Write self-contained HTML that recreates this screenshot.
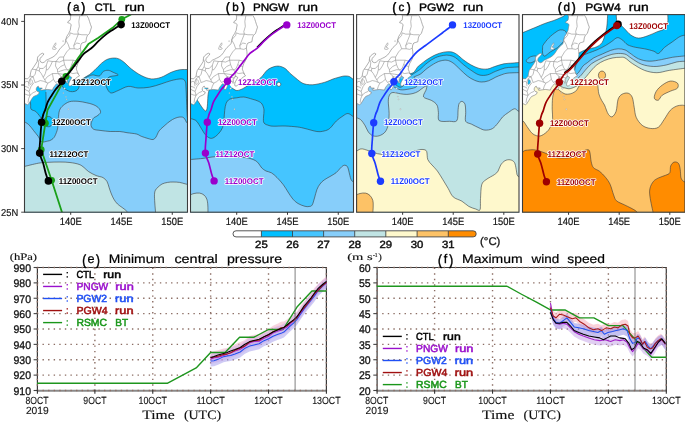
<!DOCTYPE html>
<html><head><meta charset="utf-8"><style>
html,body{margin:0;padding:0;background:#fff;width:685px;height:423px;overflow:hidden}
svg{display:block;will-change:transform}
</style></head><body>
<svg width="685" height="423" viewBox="0 0 685 423" text-rendering="geometricPrecision">
<rect width="685" height="423" fill="#fff"/>
<clipPath id="clipa"><rect x="24.5" y="14.6" width="163" height="197.6"/></clipPath>
<g clip-path="url(#clipa)">
<path d="M75,80C75.83,80.08 78.42,80.92 80,80.5C81.58,80.08 82.9,78.5 84.5,77.5C86.1,76.5 87.85,75.78 89.6,74.5C91.35,73.22 93,71.68 95,69.8C97,67.92 99.4,65 101.6,63.2C103.8,61.4 105.72,59.83 108.2,59C110.68,58.17 114.02,57.78 116.5,58.2C118.98,58.62 120.62,59.7 123.1,61.5C125.58,63.3 128.35,66.65 131.4,69C134.45,71.35 138.08,73.95 141.4,75.6C144.72,77.25 148,78.62 151.3,78.9C154.6,79.18 157.88,78.4 161.2,77.3C164.52,76.2 168.17,73.55 171.2,72.3C174.23,71.05 176.43,70.27 179.4,69.8C182.37,69.33 187.4,69.55 189,69.5L189,214L23,214L23,95L45,85L60,78L70,76Z" fill="#00bfff"/>
<path d="M75,80C75.83,80.08 78.42,80.92 80,80.5C81.58,80.08 82.9,78.5 84.5,77.5C86.1,76.5 87.85,75.78 89.6,74.5C91.35,73.22 93,71.68 95,69.8C97,67.92 99.4,65 101.6,63.2C103.8,61.4 105.72,59.83 108.2,59C110.68,58.17 114.02,57.78 116.5,58.2C118.98,58.62 120.62,59.7 123.1,61.5C125.58,63.3 128.35,66.65 131.4,69C134.45,71.35 138.08,73.95 141.4,75.6C144.72,77.25 148,78.62 151.3,78.9C154.6,79.18 157.88,78.4 161.2,77.3C164.52,76.2 168.17,73.55 171.2,72.3C174.23,71.05 176.43,70.27 179.4,69.8C182.37,69.33 187.4,69.55 189,69.5" fill="none" stroke="#3a3a3a" stroke-width="0.6"/>
<path d="M76,82C76.67,81.87 78.33,81.95 80,81.2C81.67,80.45 84,78.53 86,77.5C88,76.47 90.17,75.28 92,75C93.83,74.72 95.67,75.7 97,75.8C98.33,75.9 98.95,76.32 100,75.6C101.05,74.88 101.93,72.38 103.3,71.5C104.67,70.62 106.55,70.17 108.2,70.3C109.85,70.43 111.53,71.55 113.2,72.3C114.87,73.05 117.92,74.22 118.2,74.8C118.48,75.38 116.28,75.5 114.9,75.8C113.52,76.1 111.28,75.95 109.9,76.6C108.52,77.25 107.28,78.35 106.6,79.7C105.92,81.05 105.53,82.9 105.8,84.7C106.07,86.5 107.23,89.12 108.2,90.5C109.17,91.88 109.93,93 111.6,93C113.27,93 115.45,91.6 118.2,90.5C120.95,89.4 124.8,86.82 128.1,86.4C131.4,85.98 134.42,87.87 138,88C141.58,88.13 145.73,87.88 149.6,87.2C153.47,86.52 157.6,85 161.2,83.9C164.8,82.8 167.88,81.43 171.2,80.6C174.52,79.77 178.77,78.77 181.1,78.9C183.43,79.03 184.37,79.6 185.2,81.4C186.03,83.2 185.77,84.1 186.1,89.7C186.43,95.3 186.72,108.28 187.2,115C187.68,121.72 188.7,127.5 189,130L189,214L23,214L23,95L45,85L60,78L70,78Z" fill="#45c5ff"/>
<path d="M76,82C76.67,81.87 78.33,81.95 80,81.2C81.67,80.45 84,78.53 86,77.5C88,76.47 90.17,75.28 92,75C93.83,74.72 95.67,75.7 97,75.8C98.33,75.9 98.95,76.32 100,75.6C101.05,74.88 101.93,72.38 103.3,71.5C104.67,70.62 106.55,70.17 108.2,70.3C109.85,70.43 111.53,71.55 113.2,72.3C114.87,73.05 117.92,74.22 118.2,74.8C118.48,75.38 116.28,75.5 114.9,75.8C113.52,76.1 111.28,75.95 109.9,76.6C108.52,77.25 107.28,78.35 106.6,79.7C105.92,81.05 105.53,82.9 105.8,84.7C106.07,86.5 107.23,89.12 108.2,90.5C109.17,91.88 109.93,93 111.6,93C113.27,93 115.45,91.6 118.2,90.5C120.95,89.4 124.8,86.82 128.1,86.4C131.4,85.98 134.42,87.87 138,88C141.58,88.13 145.73,87.88 149.6,87.2C153.47,86.52 157.6,85 161.2,83.9C164.8,82.8 167.88,81.43 171.2,80.6C174.52,79.77 178.77,78.77 181.1,78.9C183.43,79.03 184.37,79.6 185.2,81.4C186.03,83.2 185.77,84.1 186.1,89.7C186.43,95.3 186.72,108.28 187.2,115C187.68,121.72 188.7,127.5 189,130" fill="none" stroke="#3a3a3a" stroke-width="0.6"/>
<path d="M29.5,98C29.68,98.98 30.33,102.03 30.6,103.9C30.87,105.77 30.23,107.93 31.1,109.2C31.97,110.47 34.42,110.42 35.8,111.5C37.18,112.58 38.43,114.62 39.4,115.7C40.37,116.78 40.92,118.45 41.6,118C42.28,117.55 42.78,115.17 43.5,113C44.22,110.83 45.5,108.5 45.9,105C46.3,101.5 45.9,94.17 45.9,92L45.9,85L29.5,88Z" fill="#00bfff"/>
<path d="M29.5,98C29.68,98.98 30.33,102.03 30.6,103.9C30.87,105.77 30.23,107.93 31.1,109.2C31.97,110.47 34.42,110.42 35.8,111.5C37.18,112.58 38.43,114.62 39.4,115.7C40.37,116.78 40.92,118.45 41.6,118C42.28,117.55 42.78,115.17 43.5,113C44.22,110.83 45.5,108.5 45.9,105C46.3,101.5 45.9,94.17 45.9,92" fill="none" stroke="#3a3a3a" stroke-width="0.6"/>
<path d="M52.9,121.6C52.9,122.62 52.55,123.83 52.02,124.66C51.49,125.48 50.58,126.23 49.72,126.55C48.86,126.86 47.74,126.86 46.88,126.55C46.02,126.23 45.11,125.48 44.58,124.66C44.05,123.83 43.7,122.62 43.7,121.6C43.7,120.58 44.05,119.37 44.58,118.54C45.11,117.72 46.02,116.97 46.88,116.65C47.74,116.34 48.86,116.34 49.72,116.65C50.58,116.97 51.49,117.72 52.02,118.54C52.55,119.37 52.9,120.58 52.9,121.6Z" fill="#00bfff"/>
<path d="M52.9,121.6C52.9,122.62 52.55,123.83 52.02,124.66C51.49,125.48 50.58,126.23 49.72,126.55C48.86,126.86 47.74,126.86 46.88,126.55C46.02,126.23 45.11,125.48 44.58,124.66C44.05,123.83 43.7,122.62 43.7,121.6C43.7,120.58 44.05,119.37 44.58,118.54C45.11,117.72 46.02,116.97 46.88,116.65C47.74,116.34 48.86,116.34 49.72,116.65C50.58,116.97 51.49,117.72 52.02,118.54C52.55,119.37 52.9,120.58 52.9,121.6Z" fill="none" stroke="#3a3a3a" stroke-width="0.6"/>
<path d="M62.9,84C62.9,84.55 62.03,86.17 62.9,87.3C63.77,88.43 66.5,90.07 68.1,90.8C69.7,91.53 71.03,91.77 72.5,91.7C73.97,91.63 75.8,91.2 76.9,90.4C78,89.6 78.82,87.92 79.1,86.9C79.38,85.88 79.12,85.12 78.6,84.3C78.08,83.48 76.43,82.38 76,82L70,81L63,82Z" fill="#00bfff"/>
<path d="M62.9,84C62.9,84.55 62.03,86.17 62.9,87.3C63.77,88.43 66.5,90.07 68.1,90.8C69.7,91.53 71.03,91.77 72.5,91.7C73.97,91.63 75.8,91.2 76.9,90.4C78,89.6 78.82,87.92 79.1,86.9C79.38,85.88 79.12,85.12 78.6,84.3C78.08,83.48 76.43,82.38 76,82" fill="none" stroke="#3a3a3a" stroke-width="0.6"/>
<path d="M23,121C23.95,121.6 26.95,123.02 28.7,124.6C30.45,126.18 31.92,128.53 33.5,130.5C35.08,132.47 36.83,134.53 38.2,136.4C39.57,138.27 40.13,140.92 41.7,141.7C43.27,142.48 46.02,141.4 47.6,141.1C49.18,140.8 50.02,140.68 51.2,139.9C52.38,139.12 53.62,138.37 54.7,136.4C55.78,134.43 57.1,131.07 57.7,128.1C58.3,125.13 58,121.55 58.3,118.6C58.6,115.65 58.72,112.57 59.5,110.4C60.28,108.23 61.33,107.05 63,105.6C64.67,104.15 67,102.42 69.5,101.7C72,100.98 75.22,101.13 78,101.3C80.78,101.47 83.7,102.17 86.2,102.7C88.7,103.23 91,103.7 93,104.5C95,105.3 96.93,106.2 98.2,107.5C99.47,108.8 100.8,110.88 100.6,112.3C100.4,113.72 98.2,115 97,116C95.8,117 94.4,116.92 93.4,118.3C92.4,119.68 91,122.5 91,124.3C91,126.1 91.73,128.07 93.4,129.1C95.07,130.13 98.2,130.1 101,130.5C103.8,130.9 107.07,131.33 110.2,131.5C113.33,131.67 117,131.3 119.8,131.5C122.6,131.7 124.22,132.28 127,132.7C129.78,133.12 134.12,133.4 136.5,134C138.88,134.6 139.38,135.55 141.3,136.3C143.22,137.05 146.05,137.97 148,138.5C149.95,139.03 151.67,139.75 153,139.5C154.33,139.25 155,138.42 156,137C157,135.58 157.83,132.67 159,131C160.17,129.33 161.57,128.33 163,127C164.43,125.67 166.02,124.25 167.6,123C169.18,121.75 170.9,120.42 172.5,119.5C174.1,118.58 175.78,117.92 177.2,117.5C178.62,117.08 179.87,116.92 181,117C182.13,117.08 183,117.02 184,118C185,118.98 186.17,122.07 187,122.9C187.83,123.73 188.67,122.98 189,123L189,214L23,214Z" fill="#87cefa"/>
<path d="M23,121C23.95,121.6 26.95,123.02 28.7,124.6C30.45,126.18 31.92,128.53 33.5,130.5C35.08,132.47 36.83,134.53 38.2,136.4C39.57,138.27 40.13,140.92 41.7,141.7C43.27,142.48 46.02,141.4 47.6,141.1C49.18,140.8 50.02,140.68 51.2,139.9C52.38,139.12 53.62,138.37 54.7,136.4C55.78,134.43 57.1,131.07 57.7,128.1C58.3,125.13 58,121.55 58.3,118.6C58.6,115.65 58.72,112.57 59.5,110.4C60.28,108.23 61.33,107.05 63,105.6C64.67,104.15 67,102.42 69.5,101.7C72,100.98 75.22,101.13 78,101.3C80.78,101.47 83.7,102.17 86.2,102.7C88.7,103.23 91,103.7 93,104.5C95,105.3 96.93,106.2 98.2,107.5C99.47,108.8 100.8,110.88 100.6,112.3C100.4,113.72 98.2,115 97,116C95.8,117 94.4,116.92 93.4,118.3C92.4,119.68 91,122.5 91,124.3C91,126.1 91.73,128.07 93.4,129.1C95.07,130.13 98.2,130.1 101,130.5C103.8,130.9 107.07,131.33 110.2,131.5C113.33,131.67 117,131.3 119.8,131.5C122.6,131.7 124.22,132.28 127,132.7C129.78,133.12 134.12,133.4 136.5,134C138.88,134.6 139.38,135.55 141.3,136.3C143.22,137.05 146.05,137.97 148,138.5C149.95,139.03 151.67,139.75 153,139.5C154.33,139.25 155,138.42 156,137C157,135.58 157.83,132.67 159,131C160.17,129.33 161.57,128.33 163,127C164.43,125.67 166.02,124.25 167.6,123C169.18,121.75 170.9,120.42 172.5,119.5C174.1,118.58 175.78,117.92 177.2,117.5C178.62,117.08 179.87,116.92 181,117C182.13,117.08 183,117.02 184,118C185,118.98 186.17,122.07 187,122.9C187.83,123.73 188.67,122.98 189,123" fill="none" stroke="#3a3a3a" stroke-width="0.6"/>
<path d="M23,166.8C25.57,166.2 34.23,163.95 38.4,163.2C42.57,162.45 44.42,162.5 48,162.3C51.58,162.1 56.23,161.97 59.9,162C63.57,162.03 66.8,162.1 70,162.5C73.2,162.9 76.77,163.57 79.1,164.4C81.43,165.23 82.42,166.3 84,167.5C85.58,168.7 86.6,170.27 88.6,171.6C90.6,172.93 93.6,174.5 96,175.5C98.4,176.5 101.17,176.6 103,177.6C104.83,178.6 106,179.9 107,181.5C108,183.1 108.33,185.28 109,187.2C109.67,189.12 110.2,191.02 111,193C111.8,194.98 112.72,197.27 113.8,199.1C114.88,200.93 116.1,202.6 117.5,204C118.9,205.4 120.78,206.42 122.2,207.5C123.62,208.58 124.82,209.42 126,210.5C127.18,211.58 128.75,213.42 129.3,214L23,214Z" fill="#c0e4e4"/>
<path d="M23,166.8C25.57,166.2 34.23,163.95 38.4,163.2C42.57,162.45 44.42,162.5 48,162.3C51.58,162.1 56.23,161.97 59.9,162C63.57,162.03 66.8,162.1 70,162.5C73.2,162.9 76.77,163.57 79.1,164.4C81.43,165.23 82.42,166.3 84,167.5C85.58,168.7 86.6,170.27 88.6,171.6C90.6,172.93 93.6,174.5 96,175.5C98.4,176.5 101.17,176.6 103,177.6C104.83,178.6 106,179.9 107,181.5C108,183.1 108.33,185.28 109,187.2C109.67,189.12 110.2,191.02 111,193C111.8,194.98 112.72,197.27 113.8,199.1C114.88,200.93 116.1,202.6 117.5,204C118.9,205.4 120.78,206.42 122.2,207.5C123.62,208.58 124.82,209.42 126,210.5C127.18,211.58 128.75,213.42 129.3,214" fill="none" stroke="#3a3a3a" stroke-width="0.6"/>
<path d="M155.7,214C155.55,212.17 155,206.28 154.8,203C154.6,199.72 154.38,196.47 154.5,194.3C154.62,192.13 154.92,191.18 155.5,190C156.08,188.82 156.92,188.2 158,187.2C159.08,186.2 160.4,184.8 162,184C163.6,183.2 165.77,182.73 167.6,182.4C169.43,182.07 171,182 173,182C175,182 177.6,182.1 179.6,182.4C181.6,182.7 183.43,183.4 185,183.8C186.57,184.2 188.33,184.63 189,184.8L189,214Z" fill="#c0e4e4"/>
<path d="M155.7,214C155.55,212.17 155,206.28 154.8,203C154.6,199.72 154.38,196.47 154.5,194.3C154.62,192.13 154.92,191.18 155.5,190C156.08,188.82 156.92,188.2 158,187.2C159.08,186.2 160.4,184.8 162,184C163.6,183.2 165.77,182.73 167.6,182.4C169.43,182.07 171,182 173,182C175,182 177.6,182.1 179.6,182.4C181.6,182.7 183.43,183.4 185,183.8C186.57,184.2 188.33,184.63 189,184.8" fill="none" stroke="#3a3a3a" stroke-width="0.6"/>
<path d="M19.93,77.37 L22.98,78 L24.5,78.64 L26.02,78.64 L27.55,78.89 L29.07,77.37 L30.09,76.1 L30.59,72.92 L31.3,70.37 L33.13,67.83 L35.67,64.01 L37.19,61.47 L37.4,58.92 L37.7,57.02 L38.72,55.74 L40.24,54.47 L42.27,53.2 L43.8,53.84 L43.29,55.11 L41.26,57.02 L40.24,58.29 L39.73,60.2 L40.75,62.1 L42.78,62.74 L44.3,62.1 L46.33,60.2 L48.37,59.31 L50.4,58.29 L52.94,57.02 L55.48,55.11 L57.51,52.56 L59.03,50.02 L61.06,47.48 L63.09,45.57 L65.12,43.66 L65.63,40.48 L66.65,36.66 L68.68,33.48 L70.2,30.3 L70.71,27.12 L71.22,24.58 L69.69,23.31 L67.66,22.67 L68.17,21.4 L70.2,20.13 L70.71,16.95 L69.69,13.77 L69.19,11.22 L85.94,11.22 L85.94,14.4 L86.96,15.68 L88.48,18.22 L89.5,21.4 L90.51,24.58 L91.53,27.12 L90.51,30.3 L89.5,33.48 L87.47,35.39 L86.45,37.94 L85.94,41.75 L83.91,42.39 L81.88,43.02 L80.86,44.93 L80.36,48.11 L80.86,51.29 L81.07,54.47 L80.66,58.29 L79.34,60.83 L77.82,63.38 L76.8,66.56 L76.29,69.1 L77.31,71.64 L78.33,74.19 L79.54,75.84 L77.82,76.73 L75.28,78.64 L74.77,81.18 L74.26,83.09 L72.23,84.36 L70.71,86.02 L69.19,86.02 L68.68,85 L68.88,83.09 L69.69,81.18 L71.22,78.64 L71.72,77.37 L70.2,76.48 L68.68,76.73 L68.17,78 L67.15,79.66 L67.46,81.44 L67.87,82.46 L67.15,83.35 L66.65,82.46 L66.14,81.18 L64.11,81.18 L62.08,81.82 L61.57,83.73 L61.57,85.64 L60.55,88.18 L59.03,90.09 L58.01,88.82 L58.32,86.27 L58.01,84.36 L56.49,83.73 L54.97,85.64 L53.44,87.54 L52.43,90.09 L50.4,89.83 L47.35,89.45 L44.3,89.83 L40.75,90.34 L40.24,89.45 L41.76,88.82 L42.27,88.05 L40.24,88.05 L39.23,88.18 L38.41,86.27 L37.4,86.53 L36.38,88.18 L36.18,90.09 L37.19,91.36 L39.23,92 L38.72,93.9 L36.69,95.18 L33.64,96.45 L32.12,98.36 L30.59,100.9 L28.56,104.08 L27.55,104.72 L26.02,104.08 L24.5,103.44 L22.98,101.54 L20.95,98.99 L19.93,95.18Z" fill="#fff" stroke="#7a7a7a" stroke-width="0.6" stroke-linejoin="round"/>
<path d="M52.63,49.13 L52.94,47.48 L53.75,45.57 L54.97,43.66 L55.68,42.77 L55.98,44.3 L54.97,46.2 L53.95,47.09 L55.68,47.73 L56.29,48.75 L54.97,49.38 L53.44,49.38Z" fill="#fff" stroke="#8a8a8a" stroke-width="0.55"/>
<circle cx="64.62" cy="88.43" r="0.8" fill="#fff" stroke="#9a9a9a" stroke-width="0.4"/>
<circle cx="63.3" cy="93.01" r="0.5" fill="#fff" stroke="#9a9a9a" stroke-width="0.4"/>
<circle cx="65.94" cy="96.7" r="0.5" fill="#fff" stroke="#9a9a9a" stroke-width="0.4"/>
<circle cx="66.65" cy="99.37" r="0.5" fill="#fff" stroke="#9a9a9a" stroke-width="0.4"/>
<circle cx="68.47" cy="109.17" r="0.6" fill="#fff" stroke="#9a9a9a" stroke-width="0.4"/>
<circle cx="63.09" cy="41.12" r="0.5" fill="#fff" stroke="#9a9a9a" stroke-width="0.4"/>
<path d="M30.59,79.28C30.93,79.17 31.83,80.02 32.12,80.55C32.4,81.08 32.49,81.82 32.32,82.46C32.15,83.09 31.51,84.15 31.1,84.36C30.7,84.58 30.05,84.26 29.88,83.73C29.71,83.2 29.97,81.93 30.09,81.18C30.2,80.44 30.25,79.38 30.59,79.28Z" fill="#fff" stroke="#7a7a7a" stroke-width="0.5"/>
<path d="M70.2,15.68 L75.79,15.68 L79.85,15.68 L85.94,15.68" fill="none" stroke="#858585" stroke-width="0.55"/>
<path d="M79.85,15.68 L78.83,21.4 L79.34,26.49 L77.82,31.58 L78.33,34.12" fill="none" stroke="#858585" stroke-width="0.55"/>
<path d="M70.2,32.85 L73.76,34.12 L78.33,34.12" fill="none" stroke="#858585" stroke-width="0.55"/>
<path d="M78.33,34.12 L81.88,34.76 L87.47,34.76" fill="none" stroke="#858585" stroke-width="0.55"/>
<path d="M78.33,34.12 L76.29,39.21 L73.76,45.57 L74.26,48.75" fill="none" stroke="#858585" stroke-width="0.55"/>
<path d="M74.26,48.75 L77.82,49.38 L80.36,48.11" fill="none" stroke="#858585" stroke-width="0.55"/>
<path d="M65.63,39.84 L68.17,44.3 L69.69,48.75 L74.26,48.75" fill="none" stroke="#858585" stroke-width="0.55"/>
<path d="M69.69,48.75 L66.65,51.93 L63.6,57.02 L63.6,60.2" fill="none" stroke="#858585" stroke-width="0.55"/>
<path d="M63.6,60.2 L67.66,60.2 L73.25,60.2 L78.33,61.47" fill="none" stroke="#858585" stroke-width="0.55"/>
<path d="M63.6,60.2 L59.54,62.1 L55.98,61.47 L52.43,61.47 L47.86,60.83" fill="none" stroke="#858585" stroke-width="0.55"/>
<path d="M47.86,60.83 L46.33,65.28 L43.29,68.46 L39.73,68.46 L38.21,66.56" fill="none" stroke="#858585" stroke-width="0.55"/>
<path d="M37.7,59.56 L38.72,62.74 L38.21,66.56" fill="none" stroke="#858585" stroke-width="0.55"/>
<path d="M32.12,69.1 L36.18,69.74 L38.21,66.56" fill="none" stroke="#858585" stroke-width="0.55"/>
<path d="M36.18,69.74 L35.16,74.19 L33.13,76.73 L30.09,76.1" fill="none" stroke="#858585" stroke-width="0.55"/>
<path d="M63.6,60.2 L64.62,64.65 L66.14,68.46 L67.66,69.74" fill="none" stroke="#858585" stroke-width="0.55"/>
<path d="M73.25,60.2 L71.72,64.65 L70.2,68.46 L68.17,69.74" fill="none" stroke="#858585" stroke-width="0.55"/>
<path d="M55.98,61.47 L55.48,65.92 L57.51,69.74 L57.51,72.28" fill="none" stroke="#858585" stroke-width="0.55"/>
<path d="M57.51,72.28 L60.55,71.01 L64.62,69.74 L67.66,69.74" fill="none" stroke="#858585" stroke-width="0.55"/>
<path d="M67.66,69.74 L69.19,72.28 L69.69,74.19" fill="none" stroke="#858585" stroke-width="0.55"/>
<path d="M69.19,72.28 L72.74,73.55 L76.8,72.92 L78.83,74.19" fill="none" stroke="#858585" stroke-width="0.55"/>
<path d="M58.01,73.55 L62.58,74.19 L66.65,74.82 L69.69,74.82" fill="none" stroke="#858585" stroke-width="0.55"/>
<path d="M69.69,74.82 L69.49,76.73" fill="none" stroke="#858585" stroke-width="0.55"/>
<path d="M60.55,76.73 L64.62,77.37 L68.17,78" fill="none" stroke="#858585" stroke-width="0.55"/>
<path d="M52.43,73.55 L58.01,73.55 L61.57,76.73 L60.55,79.28 L58.01,81.18 L55.48,82.46 L53.44,79.28 L52.43,73.55" fill="none" stroke="#858585" stroke-width="0.55"/>
<path d="M60.55,79.28 L61.06,82.46 L61.57,83.73" fill="none" stroke="#858585" stroke-width="0.55"/>
<path d="M53.44,79.28 L50.4,81.82 L47.86,83.09 L46.33,82.46 L44.81,79.91 L43.29,77.37 L45.32,73.55 L46.33,69.74 L46.33,65.28" fill="none" stroke="#858585" stroke-width="0.55"/>
<path d="M47.86,83.09 L46.33,86.27 L45.32,89.45" fill="none" stroke="#858585" stroke-width="0.55"/>
<path d="M46.33,82.46 L43.29,81.18 L40.24,80.55 L37.19,81.82" fill="none" stroke="#858585" stroke-width="0.55"/>
<path d="M37.19,81.82 L35.16,82.46 L34.15,79.91 L33.13,76.73" fill="none" stroke="#858585" stroke-width="0.55"/>
<path d="M34.15,82.46 L31.1,86.27 L30.09,88.82 L29.07,91.36 L30.09,95.18 L28.56,98.99 L28.05,102.81" fill="none" stroke="#858585" stroke-width="0.55"/>
<path d="M33.13,76.73 L30.09,78.64 L28.56,82.46 L29.07,86.27" fill="none" stroke="#858585" stroke-width="0.55"/>
<path d="M24.5,93.9 L28.05,95.18 L30.09,95.18" fill="none" stroke="#858585" stroke-width="0.55"/>
<path d="M24.5,86.27 L27.04,86.91 L29.07,88.18" fill="none" stroke="#858585" stroke-width="0.55"/>
<path d="M52.43,61.47 L50.4,65.92 L47.86,69.74 L46.33,69.74" fill="none" stroke="#858585" stroke-width="0.55"/>
<path d="M60.55,76.73 L62.08,79.28 L61.57,81.82" fill="none" stroke="#858585" stroke-width="0.55"/>
<path d="M58.52,81.18 L60.05,83.73 L61.06,85.64" fill="none" stroke="#858585" stroke-width="0.55"/>
<path d="M44.81,79.91 L47.35,76.73 L50.4,74.82 L52.43,73.55" fill="none" stroke="#858585" stroke-width="0.55"/>
<path d="M43.29,77.37 L41.26,73.55 L39.23,71.01 L39.73,68.46" fill="none" stroke="#858585" stroke-width="0.55"/>
<path d="M36.18,69.74 L39.23,71.01" fill="none" stroke="#858585" stroke-width="0.55"/>
<path d="M55.98,61.47 L59.54,57.02 L63.6,57.02" fill="none" stroke="#858585" stroke-width="0.55"/>
<path d="M65.63,39.84 L69.69,35.39 L70.2,32.85" fill="none" stroke="#858585" stroke-width="0.55"/>
<path d="M73.76,45.57 L76.8,43.02 L79.85,43.66" fill="none" stroke="#858585" stroke-width="0.55"/>
<path d="M71.72,64.65 L74.77,65.92 L76.8,66.56" fill="none" stroke="#858585" stroke-width="0.55"/>
<path d="M64.62,64.65 L60.55,66.56 L57.51,69.74" fill="none" stroke="#858585" stroke-width="0.55"/>
<path d="M29.07,91.36 L26.02,90.09 L24.5,88.82" fill="none" stroke="#858585" stroke-width="0.55"/>
<path d="M30.09,95.18 L33.13,92.63 L36.18,91.36" fill="none" stroke="#858585" stroke-width="0.55"/>
<path d="M24.5,82.46 L27.04,81.18 L28.56,82.46" fill="none" stroke="#858585" stroke-width="0.55"/>
<path d="M63.2,216 L51.6,180.3 L41.2,149.7 L45.4,123.2 L47.5,110 L56.5,93.9 L65.9,76.4 L70,70.3 L78.5,57.6 L88.4,44.1 L98.4,37.7 L112.6,27.8 L121.8,19.3 L130,15 L134,12.6" fill="none" stroke="#1aa01a" stroke-width="1.8" stroke-linejoin="round"/>
<circle cx="51.6" cy="180.3" r="3.4" fill="#1aa01a"/>
<circle cx="41.2" cy="149.7" r="3.4" fill="#1aa01a"/>
<circle cx="45.4" cy="123.2" r="3.4" fill="#1aa01a"/>
<circle cx="65.9" cy="76.4" r="3.4" fill="#1aa01a"/>
<circle cx="121.8" cy="19.3" r="3.4" fill="#1aa01a"/>
<path d="M48.4,180.9C48,179.8 46.88,177.28 46,174.3C45.12,171.32 44.15,166.53 43.1,163C42.05,159.47 40.17,157.2 39.7,153.1C39.23,149 39.98,143.53 40.3,138.4C40.62,133.27 41.07,126.37 41.6,122.3C42.13,118.23 42.9,116.05 43.5,114C44.1,111.95 44.48,112.02 45.2,110C45.92,107.98 46.7,104.37 47.8,101.9C48.9,99.43 50.47,97.3 51.8,95.2C53.13,93.1 54.47,91.07 55.8,89.3C57.13,87.53 58.8,85.93 59.8,84.6C60.8,83.27 60.77,82.73 61.8,81.3C62.83,79.87 64.63,77.6 66,76C67.37,74.4 67.92,74.3 70,71.7C72.08,69.1 76.13,63.47 78.5,60.4C80.87,57.33 82.07,55.32 84.2,53.3C86.33,51.28 88.93,50.32 91.3,48.3C93.67,46.28 96.03,43.43 98.4,41.2C100.77,38.97 103.13,36.78 105.5,34.9C107.87,33.02 110.48,31.33 112.6,29.9C114.72,28.47 116.78,27.18 118.2,26.3C119.62,25.42 120.62,24.88 121.1,24.6" fill="none" stroke="#000" stroke-width="1.8"/>
<circle cx="48.4" cy="180.9" r="3.8" fill="#000"/>
<circle cx="39.7" cy="153.1" r="3.8" fill="#000"/>
<circle cx="41.6" cy="122.3" r="3.8" fill="#000"/>
<circle cx="61.8" cy="81.3" r="3.8" fill="#000"/>
<circle cx="121.1" cy="24.6" r="3.8" fill="#000"/>
<text x="131.2" y="28.2" font-family="Liberation Sans" font-size="8.3" font-weight="bold" fill="#000" textLength="38.8" lengthAdjust="spacingAndGlyphs" stroke="#fff" stroke-width="1.6" paint-order="stroke" stroke-linejoin="round">13Z00OCT</text>
<text x="72.1" y="84.5" font-family="Liberation Sans" font-size="8.3" font-weight="bold" fill="#000" textLength="38.8" lengthAdjust="spacingAndGlyphs" stroke="#fff" stroke-width="1.6" paint-order="stroke" stroke-linejoin="round">12Z12OCT</text>
<text x="51.9" y="124.9" font-family="Liberation Sans" font-size="8.3" font-weight="bold" fill="#000" textLength="38.8" lengthAdjust="spacingAndGlyphs" stroke="#fff" stroke-width="1.6" paint-order="stroke" stroke-linejoin="round">12Z00OCT</text>
<text x="49.5" y="156.5" font-family="Liberation Sans" font-size="8.3" font-weight="bold" fill="#000" textLength="38.8" lengthAdjust="spacingAndGlyphs" stroke="#fff" stroke-width="1.6" paint-order="stroke" stroke-linejoin="round">11Z12OCT</text>
<text x="58.7" y="184.2" font-family="Liberation Sans" font-size="8.3" font-weight="bold" fill="#000" textLength="38.8" lengthAdjust="spacingAndGlyphs" stroke="#fff" stroke-width="1.6" paint-order="stroke" stroke-linejoin="round">11Z00OCT</text>
</g>
<rect x="24.5" y="14.6" width="163" height="197.6" fill="none" stroke="#3c3c3c" stroke-width="1.1"/>
<line x1="70.71" y1="212.2" x2="70.71" y2="214.79999999999998" stroke="#333" stroke-width="1"/>
<text x="70.71" y="224.9" font-family="Liberation Sans" font-size="10.5" text-anchor="middle" fill="#111" textLength="21.9" lengthAdjust="spacingAndGlyphs" stroke="#111" stroke-width="0.2">140E</text>
<line x1="121.49" y1="212.2" x2="121.49" y2="214.79999999999998" stroke="#333" stroke-width="1"/>
<text x="121.49" y="224.9" font-family="Liberation Sans" font-size="10.5" text-anchor="middle" fill="#111" textLength="21.9" lengthAdjust="spacingAndGlyphs" stroke="#111" stroke-width="0.2">145E</text>
<line x1="172.27" y1="212.2" x2="172.27" y2="214.79999999999998" stroke="#333" stroke-width="1"/>
<text x="172.27" y="224.9" font-family="Liberation Sans" font-size="10.5" text-anchor="middle" fill="#111" textLength="21.9" lengthAdjust="spacingAndGlyphs" stroke="#111" stroke-width="0.2">150E</text>
<clipPath id="clipb"><rect x="190.5" y="14.6" width="163" height="197.6"/></clipPath>
<g clip-path="url(#clipb)">
<path d="M232,88C232.8,88.42 235.02,90.38 236.8,90.5C238.58,90.62 240.83,89.53 242.7,88.7C244.57,87.87 246.02,86.58 248,85.5C249.98,84.42 252.52,83.45 254.6,82.2C256.68,80.95 258.93,79.38 260.5,78C262.07,76.62 262.82,75.27 264,73.9C265.18,72.53 266.02,70.98 267.6,69.8C269.18,68.62 271.53,67.4 273.5,66.8C275.47,66.2 277.43,65.9 279.4,66.2C281.37,66.5 283.55,67.43 285.3,68.6C287.05,69.77 288.28,71.72 289.9,73.2C291.52,74.68 293.33,76.12 295,77.5C296.67,78.88 298.4,80.45 299.9,81.5C301.4,82.55 302.35,83.25 304,83.8C305.65,84.35 307.97,84.68 309.8,84.8C311.63,84.92 313.07,84.77 315,84.5C316.93,84.23 319.4,83.7 321.4,83.2C323.4,82.7 325.07,82.2 327,81.5C328.93,80.8 331.17,79.67 333,79C334.83,78.33 336.35,77.97 338,77.5C339.65,77.03 341.48,76.45 342.9,76.2C344.32,75.95 345.4,75.93 346.5,76C347.6,76.07 348.45,76.1 349.5,76.6C350.55,77.1 351.88,78.43 352.8,79C353.72,79.57 354.63,79.83 355,80L355,214L189,214L189,95L210,86L226,80Z" fill="#00bfff"/>
<path d="M232,88C232.8,88.42 235.02,90.38 236.8,90.5C238.58,90.62 240.83,89.53 242.7,88.7C244.57,87.87 246.02,86.58 248,85.5C249.98,84.42 252.52,83.45 254.6,82.2C256.68,80.95 258.93,79.38 260.5,78C262.07,76.62 262.82,75.27 264,73.9C265.18,72.53 266.02,70.98 267.6,69.8C269.18,68.62 271.53,67.4 273.5,66.8C275.47,66.2 277.43,65.9 279.4,66.2C281.37,66.5 283.55,67.43 285.3,68.6C287.05,69.77 288.28,71.72 289.9,73.2C291.52,74.68 293.33,76.12 295,77.5C296.67,78.88 298.4,80.45 299.9,81.5C301.4,82.55 302.35,83.25 304,83.8C305.65,84.35 307.97,84.68 309.8,84.8C311.63,84.92 313.07,84.77 315,84.5C316.93,84.23 319.4,83.7 321.4,83.2C323.4,82.7 325.07,82.2 327,81.5C328.93,80.8 331.17,79.67 333,79C334.83,78.33 336.35,77.97 338,77.5C339.65,77.03 341.48,76.45 342.9,76.2C344.32,75.95 345.4,75.93 346.5,76C347.6,76.07 348.45,76.1 349.5,76.6C350.55,77.1 351.88,78.43 352.8,79C353.72,79.57 354.63,79.83 355,80" fill="none" stroke="#3a3a3a" stroke-width="0.6"/>
<path d="M280.8,84.3C280.8,84.77 280.55,85.38 280.21,85.71C279.88,86.05 279.27,86.3 278.8,86.3C278.33,86.3 277.72,86.05 277.39,85.71C277.05,85.38 276.8,84.77 276.8,84.3C276.8,83.83 277.05,83.22 277.39,82.89C277.72,82.55 278.33,82.3 278.8,82.3C279.27,82.3 279.88,82.55 280.21,82.89C280.55,83.22 280.8,83.83 280.8,84.3Z" fill="#ffffff"/>
<path d="M280.8,84.3C280.8,84.77 280.55,85.38 280.21,85.71C279.88,86.05 279.27,86.3 278.8,86.3C278.33,86.3 277.72,86.05 277.39,85.71C277.05,85.38 276.8,84.77 276.8,84.3C276.8,83.83 277.05,83.22 277.39,82.89C277.72,82.55 278.33,82.3 278.8,82.3C279.27,82.3 279.88,82.55 280.21,82.89C280.55,83.22 280.8,83.83 280.8,84.3Z" fill="none" stroke="#3a3a3a" stroke-width="0.6"/>
<path d="M197.4,100.3C198.83,102.08 204.22,111.97 206,111C207.78,110.03 207.58,97.97 208.1,94.5C208.62,91.03 208.93,90.92 209.1,90.2L203,88Z" fill="#ffffff"/>
<path d="M197.4,100.3C198.83,102.08 204.22,111.97 206,111C207.78,110.03 207.58,97.97 208.1,94.5C208.62,91.03 208.93,90.92 209.1,90.2" fill="none" stroke="#3a3a3a" stroke-width="0.6"/>
<path d="M189,118.3C190.12,118.65 193.88,119.1 195.7,120.4C197.52,121.7 198.48,123.97 199.9,126.1C201.32,128.23 202.78,131.32 204.2,133.2C205.62,135.08 206.98,136.58 208.4,137.4C209.82,138.22 211.05,138.68 212.7,138.1C214.35,137.52 216.65,135.67 218.3,133.9C219.95,132.13 221.65,129.98 222.6,127.5C223.55,125.02 223.65,121.83 224,119C224.35,116.17 224.35,113.1 224.7,110.5C225.05,107.9 225.27,105.28 226.1,103.4C226.93,101.52 227.92,100.13 229.7,99.2C231.48,98.27 234.45,98.17 236.8,97.8C239.15,97.43 241.22,96.77 243.8,97C246.38,97.23 249.92,98.52 252.3,99.2C254.68,99.88 256.48,100.3 258.1,101.1C259.72,101.9 261.02,102.52 262,104C262.98,105.48 263.75,107.83 264,110C264.25,112.17 263.5,114.83 263.5,117C263.5,119.17 263.08,121.58 264,123C264.92,124.42 267.37,124.97 269,125.5C270.63,126.03 271.13,126.12 273.8,126.2C276.47,126.28 281.02,125.87 285,126C288.98,126.13 294.37,126.58 297.7,127C301.03,127.42 301.8,127.75 305,128.5C308.2,129.25 313.73,131.08 316.9,131.5C320.07,131.92 321.87,131.5 324,131C326.13,130.5 327.65,130.17 329.7,128.5C331.75,126.83 334.1,123.08 336.3,121C338.5,118.92 340.97,117.25 342.9,116C344.83,114.75 346.25,113.45 347.9,113.5C349.55,113.55 351.62,115.55 352.8,116.3C353.98,117.05 354.63,117.72 355,118L355,214L189,214Z" fill="#45c5ff"/>
<path d="M189,118.3C190.12,118.65 193.88,119.1 195.7,120.4C197.52,121.7 198.48,123.97 199.9,126.1C201.32,128.23 202.78,131.32 204.2,133.2C205.62,135.08 206.98,136.58 208.4,137.4C209.82,138.22 211.05,138.68 212.7,138.1C214.35,137.52 216.65,135.67 218.3,133.9C219.95,132.13 221.65,129.98 222.6,127.5C223.55,125.02 223.65,121.83 224,119C224.35,116.17 224.35,113.1 224.7,110.5C225.05,107.9 225.27,105.28 226.1,103.4C226.93,101.52 227.92,100.13 229.7,99.2C231.48,98.27 234.45,98.17 236.8,97.8C239.15,97.43 241.22,96.77 243.8,97C246.38,97.23 249.92,98.52 252.3,99.2C254.68,99.88 256.48,100.3 258.1,101.1C259.72,101.9 261.02,102.52 262,104C262.98,105.48 263.75,107.83 264,110C264.25,112.17 263.5,114.83 263.5,117C263.5,119.17 263.08,121.58 264,123C264.92,124.42 267.37,124.97 269,125.5C270.63,126.03 271.13,126.12 273.8,126.2C276.47,126.28 281.02,125.87 285,126C288.98,126.13 294.37,126.58 297.7,127C301.03,127.42 301.8,127.75 305,128.5C308.2,129.25 313.73,131.08 316.9,131.5C320.07,131.92 321.87,131.5 324,131C326.13,130.5 327.65,130.17 329.7,128.5C331.75,126.83 334.1,123.08 336.3,121C338.5,118.92 340.97,117.25 342.9,116C344.83,114.75 346.25,113.45 347.9,113.5C349.55,113.55 351.62,115.55 352.8,116.3C353.98,117.05 354.63,117.72 355,118" fill="none" stroke="#3a3a3a" stroke-width="0.6"/>
<path d="M189,159.6C191.17,159.42 198.17,158.93 202,158.5C205.83,158.07 208.82,157.4 212,157C215.18,156.6 217.77,156.18 221.1,156.1C224.43,156.02 228.4,156.3 232,156.5C235.6,156.7 239.7,156.97 242.7,157.3C245.7,157.63 247.82,157.92 250,158.5C252.18,159.08 254.3,159.88 255.8,160.8C257.3,161.72 258,162.8 259,164C260,165.2 260.63,166.83 261.8,168C262.97,169.17 264.4,170.2 266,171C267.6,171.8 269.57,171.72 271.4,172.8C273.23,173.88 275,175.5 277,177.5C279,179.5 281.57,182.38 283.4,184.8C285.23,187.22 286.42,189.62 288,192C289.58,194.38 291.23,197.18 292.9,199.1C294.57,201.02 296,202.3 298,203.5C300,204.7 303.07,205.8 304.9,206.3C306.73,206.8 307.8,206.7 309,206.5C310.2,206.3 311.18,206.52 312.1,205.1C313.02,203.68 313.7,200.58 314.5,198C315.3,195.42 315.98,191.93 316.9,189.6C317.82,187.27 318.8,185.6 320,184C321.2,182.4 322.43,181.25 324.1,180C325.77,178.75 328.02,177.7 330,176.5C331.98,175.3 334.33,174.13 336,172.8C337.67,171.47 338.8,169.7 340,168.5C341.2,167.3 342.2,166.1 343.2,165.6C344.2,165.1 345.2,165.1 346,165.5C346.8,165.9 347.27,165.98 348,168C348.73,170.02 349.73,175.43 350.4,177.6C351.07,179.77 351.23,180.2 352,181C352.77,181.8 354.5,182.17 355,182.4L355,214L189,214Z" fill="#87cefa"/>
<path d="M189,159.6C191.17,159.42 198.17,158.93 202,158.5C205.83,158.07 208.82,157.4 212,157C215.18,156.6 217.77,156.18 221.1,156.1C224.43,156.02 228.4,156.3 232,156.5C235.6,156.7 239.7,156.97 242.7,157.3C245.7,157.63 247.82,157.92 250,158.5C252.18,159.08 254.3,159.88 255.8,160.8C257.3,161.72 258,162.8 259,164C260,165.2 260.63,166.83 261.8,168C262.97,169.17 264.4,170.2 266,171C267.6,171.8 269.57,171.72 271.4,172.8C273.23,173.88 275,175.5 277,177.5C279,179.5 281.57,182.38 283.4,184.8C285.23,187.22 286.42,189.62 288,192C289.58,194.38 291.23,197.18 292.9,199.1C294.57,201.02 296,202.3 298,203.5C300,204.7 303.07,205.8 304.9,206.3C306.73,206.8 307.8,206.7 309,206.5C310.2,206.3 311.18,206.52 312.1,205.1C313.02,203.68 313.7,200.58 314.5,198C315.3,195.42 315.98,191.93 316.9,189.6C317.82,187.27 318.8,185.6 320,184C321.2,182.4 322.43,181.25 324.1,180C325.77,178.75 328.02,177.7 330,176.5C331.98,175.3 334.33,174.13 336,172.8C337.67,171.47 338.8,169.7 340,168.5C341.2,167.3 342.2,166.1 343.2,165.6C344.2,165.1 345.2,165.1 346,165.5C346.8,165.9 347.27,165.98 348,168C348.73,170.02 349.73,175.43 350.4,177.6C351.07,179.77 351.23,180.2 352,181C352.77,181.8 354.5,182.17 355,182.4" fill="none" stroke="#3a3a3a" stroke-width="0.6"/>
<path d="M189,195.5C189.83,195.17 192.23,193.9 194,193.5C195.77,193.1 197.93,192.85 199.6,193.1C201.27,193.35 202.8,194 204,195C205.2,196 206.17,197.43 206.8,199.1C207.43,200.77 207.6,202.52 207.8,205C208,207.48 207.97,212.5 208,214L189,214Z" fill="#c0e4e4"/>
<path d="M189,195.5C189.83,195.17 192.23,193.9 194,193.5C195.77,193.1 197.93,192.85 199.6,193.1C201.27,193.35 202.8,194 204,195C205.2,196 206.17,197.43 206.8,199.1C207.43,200.77 207.6,202.52 207.8,205C208,207.48 207.97,212.5 208,214" fill="none" stroke="#3a3a3a" stroke-width="0.6"/>
<path d="M185.93,77.37 L188.98,78 L190.5,78.64 L192.02,78.64 L193.55,78.89 L195.07,77.37 L196.09,76.1 L196.59,72.92 L197.3,70.37 L199.13,67.83 L201.67,64.01 L203.19,61.47 L203.4,58.92 L203.7,57.02 L204.72,55.74 L206.24,54.47 L208.27,53.2 L209.8,53.84 L209.29,55.11 L207.26,57.02 L206.24,58.29 L205.73,60.2 L206.75,62.1 L208.78,62.74 L210.3,62.1 L212.33,60.2 L214.37,59.31 L216.4,58.29 L218.94,57.02 L221.48,55.11 L223.51,52.56 L225.03,50.02 L227.06,47.48 L229.09,45.57 L231.12,43.66 L231.63,40.48 L232.65,36.66 L234.68,33.48 L236.2,30.3 L236.71,27.12 L237.22,24.58 L235.69,23.31 L233.66,22.67 L234.17,21.4 L236.2,20.13 L236.71,16.95 L235.69,13.77 L235.19,11.22 L251.94,11.22 L251.94,14.4 L252.96,15.68 L254.48,18.22 L255.5,21.4 L256.51,24.58 L257.53,27.12 L256.51,30.3 L255.5,33.48 L253.47,35.39 L252.45,37.94 L251.94,41.75 L249.91,42.39 L247.88,43.02 L246.86,44.93 L246.36,48.11 L246.86,51.29 L247.07,54.47 L246.66,58.29 L245.34,60.83 L243.82,63.38 L242.8,66.56 L242.29,69.1 L243.31,71.64 L244.33,74.19 L245.54,75.84 L243.82,76.73 L241.28,78.64 L240.77,81.18 L240.26,83.09 L238.23,84.36 L236.71,86.02 L235.19,86.02 L234.68,85 L234.88,83.09 L235.69,81.18 L237.22,78.64 L237.72,77.37 L236.2,76.48 L234.68,76.73 L234.17,78 L233.15,79.66 L233.46,81.44 L233.87,82.46 L233.15,83.35 L232.65,82.46 L232.14,81.18 L230.11,81.18 L228.08,81.82 L227.57,83.73 L227.57,85.64 L226.55,88.18 L225.03,90.09 L224.01,88.82 L224.32,86.27 L224.01,84.36 L222.49,83.73 L220.97,85.64 L219.44,87.54 L218.43,90.09 L216.4,89.83 L213.35,89.45 L210.3,89.83 L206.75,90.34 L206.24,89.45 L207.76,88.82 L208.27,88.05 L206.24,88.05 L205.23,88.18 L204.41,86.27 L203.4,86.53 L202.38,88.18 L202.18,90.09 L203.19,91.36 L205.23,92 L204.72,93.9 L202.69,95.18 L199.64,96.45 L198.12,98.36 L196.59,100.9 L194.56,104.08 L193.55,104.72 L192.02,104.08 L190.5,103.44 L188.98,101.54 L186.95,98.99 L185.93,95.18Z" fill="#fff" stroke="#7a7a7a" stroke-width="0.6" stroke-linejoin="round"/>
<path d="M218.63,49.13 L218.94,47.48 L219.75,45.57 L220.97,43.66 L221.68,42.77 L221.98,44.3 L220.97,46.2 L219.95,47.09 L221.68,47.73 L222.29,48.75 L220.97,49.38 L219.44,49.38Z" fill="#fff" stroke="#8a8a8a" stroke-width="0.55"/>
<circle cx="230.62" cy="88.43" r="0.8" fill="#fff" stroke="#9a9a9a" stroke-width="0.4"/>
<circle cx="229.3" cy="93.01" r="0.5" fill="#fff" stroke="#9a9a9a" stroke-width="0.4"/>
<circle cx="231.94" cy="96.7" r="0.5" fill="#fff" stroke="#9a9a9a" stroke-width="0.4"/>
<circle cx="232.65" cy="99.37" r="0.5" fill="#fff" stroke="#9a9a9a" stroke-width="0.4"/>
<circle cx="234.47" cy="109.17" r="0.6" fill="#fff" stroke="#9a9a9a" stroke-width="0.4"/>
<circle cx="229.09" cy="41.12" r="0.5" fill="#fff" stroke="#9a9a9a" stroke-width="0.4"/>
<path d="M196.59,79.28C196.93,79.17 197.83,80.02 198.12,80.55C198.4,81.08 198.49,81.82 198.32,82.46C198.15,83.09 197.51,84.15 197.1,84.36C196.7,84.58 196.05,84.26 195.88,83.73C195.71,83.2 195.97,81.93 196.09,81.18C196.2,80.44 196.25,79.38 196.59,79.28Z" fill="#fff" stroke="#7a7a7a" stroke-width="0.5"/>
<path d="M236.2,15.68 L241.79,15.68 L245.85,15.68 L251.94,15.68" fill="none" stroke="#858585" stroke-width="0.55"/>
<path d="M245.85,15.68 L244.83,21.4 L245.34,26.49 L243.82,31.58 L244.33,34.12" fill="none" stroke="#858585" stroke-width="0.55"/>
<path d="M236.2,32.85 L239.76,34.12 L244.33,34.12" fill="none" stroke="#858585" stroke-width="0.55"/>
<path d="M244.33,34.12 L247.88,34.76 L253.47,34.76" fill="none" stroke="#858585" stroke-width="0.55"/>
<path d="M244.33,34.12 L242.29,39.21 L239.76,45.57 L240.26,48.75" fill="none" stroke="#858585" stroke-width="0.55"/>
<path d="M240.26,48.75 L243.82,49.38 L246.36,48.11" fill="none" stroke="#858585" stroke-width="0.55"/>
<path d="M231.63,39.84 L234.17,44.3 L235.69,48.75 L240.26,48.75" fill="none" stroke="#858585" stroke-width="0.55"/>
<path d="M235.69,48.75 L232.65,51.93 L229.6,57.02 L229.6,60.2" fill="none" stroke="#858585" stroke-width="0.55"/>
<path d="M229.6,60.2 L233.66,60.2 L239.25,60.2 L244.33,61.47" fill="none" stroke="#858585" stroke-width="0.55"/>
<path d="M229.6,60.2 L225.54,62.1 L221.98,61.47 L218.43,61.47 L213.86,60.83" fill="none" stroke="#858585" stroke-width="0.55"/>
<path d="M213.86,60.83 L212.33,65.28 L209.29,68.46 L205.73,68.46 L204.21,66.56" fill="none" stroke="#858585" stroke-width="0.55"/>
<path d="M203.7,59.56 L204.72,62.74 L204.21,66.56" fill="none" stroke="#858585" stroke-width="0.55"/>
<path d="M198.12,69.1 L202.18,69.74 L204.21,66.56" fill="none" stroke="#858585" stroke-width="0.55"/>
<path d="M202.18,69.74 L201.16,74.19 L199.13,76.73 L196.09,76.1" fill="none" stroke="#858585" stroke-width="0.55"/>
<path d="M229.6,60.2 L230.62,64.65 L232.14,68.46 L233.66,69.74" fill="none" stroke="#858585" stroke-width="0.55"/>
<path d="M239.25,60.2 L237.72,64.65 L236.2,68.46 L234.17,69.74" fill="none" stroke="#858585" stroke-width="0.55"/>
<path d="M221.98,61.47 L221.48,65.92 L223.51,69.74 L223.51,72.28" fill="none" stroke="#858585" stroke-width="0.55"/>
<path d="M223.51,72.28 L226.55,71.01 L230.62,69.74 L233.66,69.74" fill="none" stroke="#858585" stroke-width="0.55"/>
<path d="M233.66,69.74 L235.19,72.28 L235.69,74.19" fill="none" stroke="#858585" stroke-width="0.55"/>
<path d="M235.19,72.28 L238.74,73.55 L242.8,72.92 L244.83,74.19" fill="none" stroke="#858585" stroke-width="0.55"/>
<path d="M224.01,73.55 L228.58,74.19 L232.65,74.82 L235.69,74.82" fill="none" stroke="#858585" stroke-width="0.55"/>
<path d="M235.69,74.82 L235.49,76.73" fill="none" stroke="#858585" stroke-width="0.55"/>
<path d="M226.55,76.73 L230.62,77.37 L234.17,78" fill="none" stroke="#858585" stroke-width="0.55"/>
<path d="M218.43,73.55 L224.01,73.55 L227.57,76.73 L226.55,79.28 L224.01,81.18 L221.48,82.46 L219.44,79.28 L218.43,73.55" fill="none" stroke="#858585" stroke-width="0.55"/>
<path d="M226.55,79.28 L227.06,82.46 L227.57,83.73" fill="none" stroke="#858585" stroke-width="0.55"/>
<path d="M219.44,79.28 L216.4,81.82 L213.86,83.09 L212.33,82.46 L210.81,79.91 L209.29,77.37 L211.32,73.55 L212.33,69.74 L212.33,65.28" fill="none" stroke="#858585" stroke-width="0.55"/>
<path d="M213.86,83.09 L212.33,86.27 L211.32,89.45" fill="none" stroke="#858585" stroke-width="0.55"/>
<path d="M212.33,82.46 L209.29,81.18 L206.24,80.55 L203.19,81.82" fill="none" stroke="#858585" stroke-width="0.55"/>
<path d="M203.19,81.82 L201.16,82.46 L200.15,79.91 L199.13,76.73" fill="none" stroke="#858585" stroke-width="0.55"/>
<path d="M200.15,82.46 L197.1,86.27 L196.09,88.82 L195.07,91.36 L196.09,95.18 L194.56,98.99 L194.05,102.81" fill="none" stroke="#858585" stroke-width="0.55"/>
<path d="M199.13,76.73 L196.09,78.64 L194.56,82.46 L195.07,86.27" fill="none" stroke="#858585" stroke-width="0.55"/>
<path d="M190.5,93.9 L194.05,95.18 L196.09,95.18" fill="none" stroke="#858585" stroke-width="0.55"/>
<path d="M190.5,86.27 L193.04,86.91 L195.07,88.18" fill="none" stroke="#858585" stroke-width="0.55"/>
<path d="M218.43,61.47 L216.4,65.92 L213.86,69.74 L212.33,69.74" fill="none" stroke="#858585" stroke-width="0.55"/>
<path d="M226.55,76.73 L228.08,79.28 L227.57,81.82" fill="none" stroke="#858585" stroke-width="0.55"/>
<path d="M224.52,81.18 L226.05,83.73 L227.06,85.64" fill="none" stroke="#858585" stroke-width="0.55"/>
<path d="M210.81,79.91 L213.35,76.73 L216.4,74.82 L218.43,73.55" fill="none" stroke="#858585" stroke-width="0.55"/>
<path d="M209.29,77.37 L207.26,73.55 L205.23,71.01 L205.73,68.46" fill="none" stroke="#858585" stroke-width="0.55"/>
<path d="M202.18,69.74 L205.23,71.01" fill="none" stroke="#858585" stroke-width="0.55"/>
<path d="M221.98,61.47 L225.54,57.02 L229.6,57.02" fill="none" stroke="#858585" stroke-width="0.55"/>
<path d="M231.63,39.84 L235.69,35.39 L236.2,32.85" fill="none" stroke="#858585" stroke-width="0.55"/>
<path d="M239.76,45.57 L242.8,43.02 L245.85,43.66" fill="none" stroke="#858585" stroke-width="0.55"/>
<path d="M237.72,64.65 L240.77,65.92 L242.8,66.56" fill="none" stroke="#858585" stroke-width="0.55"/>
<path d="M230.62,64.65 L226.55,66.56 L223.51,69.74" fill="none" stroke="#858585" stroke-width="0.55"/>
<path d="M195.07,91.36 L192.02,90.09 L190.5,88.82" fill="none" stroke="#858585" stroke-width="0.55"/>
<path d="M196.09,95.18 L199.13,92.63 L202.18,91.36" fill="none" stroke="#858585" stroke-width="0.55"/>
<path d="M190.5,82.46 L193.04,81.18 L194.56,82.46" fill="none" stroke="#858585" stroke-width="0.55"/>
<path d="M257,47.4C258.18,46.22 261.73,42.53 264.1,40.3C266.47,38.07 268.83,35.88 271.2,34C273.57,32.12 276.18,30.43 278.3,29C280.42,27.57 282.48,26.28 283.9,25.4C285.32,24.52 286.32,23.98 286.8,23.7" fill="none" stroke="#000" stroke-width="1.5"/>
<path d="M214.1,180.9C213.7,179.8 212.58,177.28 211.7,174.3C210.82,171.32 209.85,166.53 208.8,163C207.75,159.47 205.87,157.2 205.4,153.1C204.93,149 205.68,143.53 206,138.4C206.32,133.27 206.77,126.37 207.3,122.3C207.83,118.23 208.6,116.05 209.2,114C209.8,111.95 210.18,112.02 210.9,110C211.62,107.98 212.4,104.37 213.5,101.9C214.6,99.43 216.17,97.3 217.5,95.2C218.83,93.1 220.17,91.07 221.5,89.3C222.83,87.53 224.5,85.93 225.5,84.6C226.5,83.27 226.47,82.73 227.5,81.3C228.53,79.87 230.33,77.6 231.7,76C233.07,74.4 233.62,74.3 235.7,71.7C237.78,69.1 241.83,63.47 244.2,60.4C246.57,57.33 247.77,55.32 249.9,53.3C252.03,51.28 254.63,50.32 257,48.3C259.37,46.28 261.73,43.43 264.1,41.2C266.47,38.97 268.83,36.78 271.2,34.9C273.57,33.02 276.18,31.33 278.3,29.9C280.42,28.47 282.48,27.13 283.9,26.3C285.32,25.47 286.32,25.13 286.8,24.9" fill="none" stroke="#9900cc" stroke-width="1.7"/>
<circle cx="214.1" cy="180.9" r="3.7" fill="#9900cc"/>
<circle cx="205.4" cy="153.1" r="3.7" fill="#9900cc"/>
<circle cx="207.3" cy="122.3" r="3.7" fill="#9900cc"/>
<circle cx="227.5" cy="81.3" r="3.7" fill="#9900cc"/>
<circle cx="286.8" cy="24.9" r="3.7" fill="#9900cc"/>
<text x="297.2" y="28.2" font-family="Liberation Sans" font-size="8.3" font-weight="bold" fill="#9900cc" textLength="38.8" lengthAdjust="spacingAndGlyphs" stroke="#fff" stroke-width="1.6" paint-order="stroke" stroke-linejoin="round">13Z00OCT</text>
<text x="238.1" y="84.5" font-family="Liberation Sans" font-size="8.3" font-weight="bold" fill="#9900cc" textLength="38.8" lengthAdjust="spacingAndGlyphs" stroke="#fff" stroke-width="1.6" paint-order="stroke" stroke-linejoin="round">12Z12OCT</text>
<text x="217.9" y="124.9" font-family="Liberation Sans" font-size="8.3" font-weight="bold" fill="#9900cc" textLength="38.8" lengthAdjust="spacingAndGlyphs" stroke="#fff" stroke-width="1.6" paint-order="stroke" stroke-linejoin="round">12Z00OCT</text>
<text x="215.5" y="156.5" font-family="Liberation Sans" font-size="8.3" font-weight="bold" fill="#9900cc" textLength="38.8" lengthAdjust="spacingAndGlyphs" stroke="#fff" stroke-width="1.6" paint-order="stroke" stroke-linejoin="round">11Z12OCT</text>
<text x="224.7" y="184.2" font-family="Liberation Sans" font-size="8.3" font-weight="bold" fill="#9900cc" textLength="38.8" lengthAdjust="spacingAndGlyphs" stroke="#fff" stroke-width="1.6" paint-order="stroke" stroke-linejoin="round">11Z00OCT</text>
</g>
<rect x="190.5" y="14.6" width="163" height="197.6" fill="none" stroke="#3c3c3c" stroke-width="1.1"/>
<line x1="236.71" y1="212.2" x2="236.71" y2="214.79999999999998" stroke="#333" stroke-width="1"/>
<text x="236.71" y="224.9" font-family="Liberation Sans" font-size="10.5" text-anchor="middle" fill="#111" textLength="21.9" lengthAdjust="spacingAndGlyphs" stroke="#111" stroke-width="0.2">140E</text>
<line x1="287.49" y1="212.2" x2="287.49" y2="214.79999999999998" stroke="#333" stroke-width="1"/>
<text x="287.49" y="224.9" font-family="Liberation Sans" font-size="10.5" text-anchor="middle" fill="#111" textLength="21.9" lengthAdjust="spacingAndGlyphs" stroke="#111" stroke-width="0.2">145E</text>
<line x1="338.27" y1="212.2" x2="338.27" y2="214.79999999999998" stroke="#333" stroke-width="1"/>
<text x="338.27" y="224.9" font-family="Liberation Sans" font-size="10.5" text-anchor="middle" fill="#111" textLength="21.9" lengthAdjust="spacingAndGlyphs" stroke="#111" stroke-width="0.2">150E</text>
<clipPath id="clipc"><rect x="356.6" y="14.6" width="162.4" height="197.6"/></clipPath>
<g clip-path="url(#clipc)">
<path d="M408,74C408.9,73.77 411.78,73.78 413.4,72.6C415.02,71.42 416.52,68.25 417.7,66.9C418.88,65.55 418.93,65.73 420.5,64.5C422.07,63.27 424.62,61.12 427.1,59.5C429.58,57.88 432.65,56.02 435.4,54.8C438.15,53.58 441.05,52.7 443.6,52.2C446.15,51.7 448.53,51.47 450.7,51.8C452.87,52.13 454.43,52.82 456.6,54.2C458.77,55.58 461.33,58.33 463.7,60.1C466.07,61.87 468.23,63.42 470.8,64.8C473.37,66.18 476.33,67.7 479.1,68.4C481.87,69.1 484.83,69.3 487.4,69C489.97,68.7 491.75,67.47 494.5,66.6C497.25,65.73 500.95,64.38 503.9,63.8C506.85,63.22 509.35,63.35 512.2,63.1C515.05,62.85 519.53,62.43 521,62.3L521,214L355,214L355,80L380,74L400,72Z" fill="#00bfff"/>
<path d="M408,74C408.9,73.77 411.78,73.78 413.4,72.6C415.02,71.42 416.52,68.25 417.7,66.9C418.88,65.55 418.93,65.73 420.5,64.5C422.07,63.27 424.62,61.12 427.1,59.5C429.58,57.88 432.65,56.02 435.4,54.8C438.15,53.58 441.05,52.7 443.6,52.2C446.15,51.7 448.53,51.47 450.7,51.8C452.87,52.13 454.43,52.82 456.6,54.2C458.77,55.58 461.33,58.33 463.7,60.1C466.07,61.87 468.23,63.42 470.8,64.8C473.37,66.18 476.33,67.7 479.1,68.4C481.87,69.1 484.83,69.3 487.4,69C489.97,68.7 491.75,67.47 494.5,66.6C497.25,65.73 500.95,64.38 503.9,63.8C506.85,63.22 509.35,63.35 512.2,63.1C515.05,62.85 519.53,62.43 521,62.3" fill="none" stroke="#3a3a3a" stroke-width="0.6"/>
<path d="M410,76C411.05,75.32 414.55,73.07 416.3,71.9C418.05,70.73 418.7,70.48 420.5,69C422.3,67.52 424.62,64.88 427.1,63C429.58,61.12 432.65,58.97 435.4,57.7C438.15,56.43 441.25,55.78 443.6,55.4C445.95,55.02 447.52,55.02 449.5,55.4C451.48,55.78 453.13,56.13 455.5,57.7C457.87,59.27 461.15,62.73 463.7,64.8C466.25,66.87 468.23,68.42 470.8,70.1C473.37,71.78 476.33,74.1 479.1,74.9C481.87,75.7 484.65,75.5 487.4,74.9C490.15,74.3 492.68,72.45 495.6,71.3C498.52,70.15 502.17,68.67 504.9,68C507.63,67.33 509.32,67.48 512,67.3C514.68,67.12 519.5,66.97 521,66.9L521,214L355,214L355,80L380,75L400,74Z" fill="#45c5ff"/>
<path d="M410,76C411.05,75.32 414.55,73.07 416.3,71.9C418.05,70.73 418.7,70.48 420.5,69C422.3,67.52 424.62,64.88 427.1,63C429.58,61.12 432.65,58.97 435.4,57.7C438.15,56.43 441.25,55.78 443.6,55.4C445.95,55.02 447.52,55.02 449.5,55.4C451.48,55.78 453.13,56.13 455.5,57.7C457.87,59.27 461.15,62.73 463.7,64.8C466.25,66.87 468.23,68.42 470.8,70.1C473.37,71.78 476.33,74.1 479.1,74.9C481.87,75.7 484.65,75.5 487.4,74.9C490.15,74.3 492.68,72.45 495.6,71.3C498.52,70.15 502.17,68.67 504.9,68C507.63,67.33 509.32,67.48 512,67.3C514.68,67.12 519.5,66.97 521,66.9" fill="none" stroke="#3a3a3a" stroke-width="0.6"/>
<path d="M411,79C411.67,78.58 413.42,77.33 415,76.5C416.58,75.67 418.48,75.35 420.5,74C422.52,72.65 424.62,70.23 427.1,68.4C429.58,66.57 433.03,64.28 435.4,63C437.77,61.72 439.33,61.15 441.3,60.7C443.27,60.25 445.23,59.92 447.2,60.3C449.17,60.68 450.93,61.47 453.1,63C455.27,64.53 457.83,67.33 460.2,69.5C462.57,71.67 464.93,74.22 467.3,76C469.67,77.78 472.05,79.2 474.4,80.2C476.75,81.2 479.05,81.9 481.4,82C483.75,82.1 486.13,81.6 488.5,80.8C490.87,80 493.38,78.22 495.6,77.2C497.82,76.18 499.73,75.38 501.8,74.7C503.87,74.02 504.8,73.45 508,73.1C511.2,72.75 518.83,72.68 521,72.6L521,214L355,214L355,80L380,76L400,76Z" fill="#87cefa"/>
<path d="M411,79C411.67,78.58 413.42,77.33 415,76.5C416.58,75.67 418.48,75.35 420.5,74C422.52,72.65 424.62,70.23 427.1,68.4C429.58,66.57 433.03,64.28 435.4,63C437.77,61.72 439.33,61.15 441.3,60.7C443.27,60.25 445.23,59.92 447.2,60.3C449.17,60.68 450.93,61.47 453.1,63C455.27,64.53 457.83,67.33 460.2,69.5C462.57,71.67 464.93,74.22 467.3,76C469.67,77.78 472.05,79.2 474.4,80.2C476.75,81.2 479.05,81.9 481.4,82C483.75,82.1 486.13,81.6 488.5,80.8C490.87,80 493.38,78.22 495.6,77.2C497.82,76.18 499.73,75.38 501.8,74.7C503.87,74.02 504.8,73.45 508,73.1C511.2,72.75 518.83,72.68 521,72.6" fill="none" stroke="#3a3a3a" stroke-width="0.6"/>
<path d="M394,87C395.12,87.47 398.17,89.47 400.7,89.8C403.23,90.13 406.6,89.5 409.2,89C411.8,88.5 414.83,87.97 416.3,86.8C417.77,85.63 418.38,83.55 418,82C417.62,80.45 414.67,78.25 414,77.5L405,76L395,80Z" fill="#45c5ff"/>
<path d="M394,87C395.12,87.47 398.17,89.47 400.7,89.8C403.23,90.13 406.6,89.5 409.2,89C411.8,88.5 414.83,87.97 416.3,86.8C417.77,85.63 418.38,83.55 418,82C417.62,80.45 414.67,78.25 414,77.5" fill="none" stroke="#3a3a3a" stroke-width="0.6"/>
<path d="M396,85C396.67,85.38 398.67,87.3 400,87.3C401.33,87.3 403.25,86.22 404,85C404.75,83.78 404.42,80.83 404.5,80L398,78Z" fill="#00bfff"/>
<path d="M396,85C396.67,85.38 398.67,87.3 400,87.3C401.33,87.3 403.25,86.22 404,85C404.75,83.78 404.42,80.83 404.5,80" fill="none" stroke="#3a3a3a" stroke-width="0.6"/>
<path d="M355,117.3C355.93,117.68 358.9,118.18 360.6,119.6C362.3,121.02 363.92,123.75 365.2,125.8C366.48,127.85 367.02,130.23 368.3,131.9C369.58,133.57 371.1,135.15 372.9,135.8C374.7,136.45 377.05,136.45 379.1,135.8C381.15,135.15 383.67,133.83 385.2,131.9C386.73,129.97 387.65,127.27 388.3,124.2C388.95,121.13 389.1,117.33 389.1,113.5C389.1,109.67 388.23,104.28 388.3,101.2C388.37,98.12 388.73,96.45 389.5,95C390.27,93.55 391.05,92.7 392.9,92.5C394.75,92.3 398.28,93.48 400.6,93.8C402.92,94.12 404.73,94.45 406.8,94.4C408.87,94.35 411.13,93.98 413,93.5C414.87,93.02 416.5,92.33 418,91.5C419.5,90.67 420.57,89.43 422,88.5C423.43,87.57 425.95,85.6 426.6,85.9C427.25,86.2 426.38,88.83 425.9,90.3C425.42,91.77 423.95,93.47 423.7,94.7C423.45,95.93 423.05,96.72 424.4,97.7C425.75,98.68 429.7,99.37 431.8,100.6C433.9,101.83 435.9,103.13 437,105.1C438.1,107.07 438.03,109.82 438.4,112.4C438.77,114.98 437.35,119.12 439.2,120.6C441.05,122.08 446.55,121.3 449.5,121.3C452.45,121.3 455.47,122.57 456.9,120.6C458.33,118.63 457.73,112.33 458.1,109.5C458.47,106.67 458.45,104.95 459.1,103.6C459.75,102.25 461.02,101.28 462,101.4C462.98,101.52 464.38,102.47 465,104.3C465.62,106.13 465.58,109.57 465.7,112.4C465.82,115.23 464.72,119.33 465.7,121.3C466.68,123.27 469.38,123.1 471.6,124.2C473.82,125.3 476.78,126.92 479,127.9C481.22,128.88 482.68,129.97 484.9,130.1C487.12,130.23 490.08,129.92 492.3,128.7C494.52,127.48 496.48,124.77 498.2,122.8C499.92,120.83 500.88,118.63 502.6,116.9C504.32,115.17 506.53,113.75 508.5,112.4C510.47,111.05 512.8,109.03 514.4,108.8C516,108.57 517,110.52 518.1,111C519.2,111.48 520.52,111.58 521,111.7L521,214L355,214Z" fill="#c0e4e4"/>
<path d="M355,117.3C355.93,117.68 358.9,118.18 360.6,119.6C362.3,121.02 363.92,123.75 365.2,125.8C366.48,127.85 367.02,130.23 368.3,131.9C369.58,133.57 371.1,135.15 372.9,135.8C374.7,136.45 377.05,136.45 379.1,135.8C381.15,135.15 383.67,133.83 385.2,131.9C386.73,129.97 387.65,127.27 388.3,124.2C388.95,121.13 389.1,117.33 389.1,113.5C389.1,109.67 388.23,104.28 388.3,101.2C388.37,98.12 388.73,96.45 389.5,95C390.27,93.55 391.05,92.7 392.9,92.5C394.75,92.3 398.28,93.48 400.6,93.8C402.92,94.12 404.73,94.45 406.8,94.4C408.87,94.35 411.13,93.98 413,93.5C414.87,93.02 416.5,92.33 418,91.5C419.5,90.67 420.57,89.43 422,88.5C423.43,87.57 425.95,85.6 426.6,85.9C427.25,86.2 426.38,88.83 425.9,90.3C425.42,91.77 423.95,93.47 423.7,94.7C423.45,95.93 423.05,96.72 424.4,97.7C425.75,98.68 429.7,99.37 431.8,100.6C433.9,101.83 435.9,103.13 437,105.1C438.1,107.07 438.03,109.82 438.4,112.4C438.77,114.98 437.35,119.12 439.2,120.6C441.05,122.08 446.55,121.3 449.5,121.3C452.45,121.3 455.47,122.57 456.9,120.6C458.33,118.63 457.73,112.33 458.1,109.5C458.47,106.67 458.45,104.95 459.1,103.6C459.75,102.25 461.02,101.28 462,101.4C462.98,101.52 464.38,102.47 465,104.3C465.62,106.13 465.58,109.57 465.7,112.4C465.82,115.23 464.72,119.33 465.7,121.3C466.68,123.27 469.38,123.1 471.6,124.2C473.82,125.3 476.78,126.92 479,127.9C481.22,128.88 482.68,129.97 484.9,130.1C487.12,130.23 490.08,129.92 492.3,128.7C494.52,127.48 496.48,124.77 498.2,122.8C499.92,120.83 500.88,118.63 502.6,116.9C504.32,115.17 506.53,113.75 508.5,112.4C510.47,111.05 512.8,109.03 514.4,108.8C516,108.57 517,110.52 518.1,111C519.2,111.48 520.52,111.58 521,111.7" fill="none" stroke="#3a3a3a" stroke-width="0.6"/>
<path d="M355,152.5C355.97,151.9 358.63,149.23 360.8,148.9C362.97,148.57 365.22,149.7 368,150.5C370.78,151.3 374.17,152.95 377.5,153.7C380.83,154.45 384.4,154.8 388,155C391.6,155.2 395.77,155.23 399.1,154.9C402.43,154.57 404.82,153.8 408,153C411.18,152.2 415.7,150.68 418.2,150.1C420.7,149.52 421.6,149.3 423,149.5C424.4,149.7 425.8,149.62 426.6,151.3C427.4,152.98 426.9,157.32 427.8,159.6C428.7,161.88 430.4,163.1 432,165C433.6,166.9 435.58,168.55 437.4,171C439.22,173.45 441.12,176.82 442.9,179.7C444.68,182.58 446.38,185.43 448.1,188.3C449.82,191.17 450.9,194.75 453.2,196.9C455.5,199.05 459.3,199.62 461.9,201.2C464.5,202.78 466.5,205.1 468.8,206.4C471.1,207.7 473.83,208.43 475.7,209C477.57,209.57 479.2,211.53 480,209.8C480.8,208.07 480.22,202.77 480.5,198.6C480.78,194.43 480.78,187.95 481.7,184.8C482.62,181.65 483.85,181.42 486,179.7C488.15,177.98 492.58,175.95 494.6,174.5C496.62,173.05 497.08,172.58 498.1,171C499.12,169.42 499.55,166.72 500.7,165C501.85,163.28 503.43,161.57 505,160.7C506.57,159.83 508.53,159.52 510.1,159.8C511.67,160.08 513.38,160.82 514.4,162.4C515.42,163.98 515.77,167.28 516.2,169.3C516.63,171.32 516.57,173.22 517,174.5C517.43,175.78 518.13,176.42 518.8,177C519.47,177.58 520.63,177.83 521,178L521,214L355,214Z" fill="#fef8cc"/>
<path d="M355,152.5C355.97,151.9 358.63,149.23 360.8,148.9C362.97,148.57 365.22,149.7 368,150.5C370.78,151.3 374.17,152.95 377.5,153.7C380.83,154.45 384.4,154.8 388,155C391.6,155.2 395.77,155.23 399.1,154.9C402.43,154.57 404.82,153.8 408,153C411.18,152.2 415.7,150.68 418.2,150.1C420.7,149.52 421.6,149.3 423,149.5C424.4,149.7 425.8,149.62 426.6,151.3C427.4,152.98 426.9,157.32 427.8,159.6C428.7,161.88 430.4,163.1 432,165C433.6,166.9 435.58,168.55 437.4,171C439.22,173.45 441.12,176.82 442.9,179.7C444.68,182.58 446.38,185.43 448.1,188.3C449.82,191.17 450.9,194.75 453.2,196.9C455.5,199.05 459.3,199.62 461.9,201.2C464.5,202.78 466.5,205.1 468.8,206.4C471.1,207.7 473.83,208.43 475.7,209C477.57,209.57 479.2,211.53 480,209.8C480.8,208.07 480.22,202.77 480.5,198.6C480.78,194.43 480.78,187.95 481.7,184.8C482.62,181.65 483.85,181.42 486,179.7C488.15,177.98 492.58,175.95 494.6,174.5C496.62,173.05 497.08,172.58 498.1,171C499.12,169.42 499.55,166.72 500.7,165C501.85,163.28 503.43,161.57 505,160.7C506.57,159.83 508.53,159.52 510.1,159.8C511.67,160.08 513.38,160.82 514.4,162.4C515.42,163.98 515.77,167.28 516.2,169.3C516.63,171.32 516.57,173.22 517,174.5C517.43,175.78 518.13,176.42 518.8,177C519.47,177.58 520.63,177.83 521,178" fill="none" stroke="#3a3a3a" stroke-width="0.6"/>
<path d="M355,195.5C355.83,195.17 358.23,193.9 360,193.5C361.77,193.1 363.93,192.77 365.6,193.1C367.27,193.43 368.8,194.3 370,195.5C371.2,196.7 372.27,198.55 372.8,200.3C373.33,202.05 373.2,203.72 373.2,206C373.2,208.28 372.87,212.67 372.8,214L355,214Z" fill="#fdc266"/>
<path d="M355,195.5C355.83,195.17 358.23,193.9 360,193.5C361.77,193.1 363.93,192.77 365.6,193.1C367.27,193.43 368.8,194.3 370,195.5C371.2,196.7 372.27,198.55 372.8,200.3C373.33,202.05 373.2,203.72 373.2,206C373.2,208.28 372.87,212.67 372.8,214" fill="none" stroke="#3a3a3a" stroke-width="0.6"/>
<path d="M352.05,77.37 L355.08,78 L356.6,78.64 L358.12,78.64 L359.64,78.89 L361.15,77.37 L362.17,76.1 L362.67,72.92 L363.38,70.37 L365.2,67.83 L367.73,64.01 L369.25,61.47 L369.45,58.92 L369.75,57.02 L370.77,55.74 L372.28,54.47 L374.31,53.2 L375.82,53.84 L375.32,55.11 L373.3,57.02 L372.28,58.29 L371.78,60.2 L372.79,62.1 L374.81,62.74 L376.33,62.1 L378.35,60.2 L380.38,59.31 L382.4,58.29 L384.93,57.02 L387.46,55.11 L389.48,52.56 L391,50.02 L393.03,47.48 L395.05,45.57 L397.07,43.66 L397.58,40.48 L398.59,36.66 L400.61,33.48 L402.13,30.3 L402.64,27.12 L403.14,24.58 L401.63,23.31 L399.6,22.67 L400.11,21.4 L402.13,20.13 L402.64,16.95 L401.63,13.77 L401.12,11.22 L417.82,11.22 L417.82,14.4 L418.83,15.68 L420.35,18.22 L421.36,21.4 L422.37,24.58 L423.38,27.12 L422.37,30.3 L421.36,33.48 L419.33,35.39 L418.32,37.94 L417.82,41.75 L415.79,42.39 L413.77,43.02 L412.76,44.93 L412.25,48.11 L412.76,51.29 L412.96,54.47 L412.55,58.29 L411.24,60.83 L409.72,63.38 L408.71,66.56 L408.2,69.1 L409.22,71.64 L410.23,74.19 L411.44,75.84 L409.72,76.73 L407.19,78.64 L406.69,81.18 L406.18,83.09 L404.16,84.36 L402.64,86.02 L401.12,86.02 L400.61,85 L400.82,83.09 L401.63,81.18 L403.14,78.64 L403.65,77.37 L402.13,76.48 L400.61,76.73 L400.11,78 L399.1,79.66 L399.4,81.44 L399.81,82.46 L399.1,83.35 L398.59,82.46 L398.09,81.18 L396.06,81.18 L394.04,81.82 L393.53,83.73 L393.53,85.64 L392.52,88.18 L391,90.09 L389.99,88.82 L390.29,86.27 L389.99,84.36 L388.47,83.73 L386.96,85.64 L385.44,87.54 L384.43,90.09 L382.4,89.83 L379.37,89.45 L376.33,89.83 L372.79,90.34 L372.28,89.45 L373.8,88.82 L374.31,88.05 L372.28,88.05 L371.27,88.18 L370.46,86.27 L369.45,86.53 L368.44,88.18 L368.24,90.09 L369.25,91.36 L371.27,92 L370.77,93.9 L368.74,95.18 L365.71,96.45 L364.19,98.36 L362.67,100.9 L360.65,104.08 L359.64,104.72 L358.12,104.08 L356.6,103.44 L355.08,101.54 L353.06,98.99 L352.05,95.18Z" fill="#fff" stroke="#7a7a7a" stroke-width="0.6" stroke-linejoin="round"/>
<path d="M384.63,49.13 L384.93,47.48 L385.74,45.57 L386.96,43.66 L387.66,42.77 L387.97,44.3 L386.96,46.2 L385.94,47.09 L387.66,47.73 L388.27,48.75 L386.96,49.38 L385.44,49.38Z" fill="#fff" stroke="#8a8a8a" stroke-width="0.55"/>
<circle cx="396.57" cy="88.43" r="0.8" fill="#fff" stroke="#9a9a9a" stroke-width="0.4"/>
<circle cx="395.25" cy="93.01" r="0.5" fill="#fff" stroke="#9a9a9a" stroke-width="0.4"/>
<circle cx="397.88" cy="96.7" r="0.5" fill="#fff" stroke="#9a9a9a" stroke-width="0.4"/>
<circle cx="398.59" cy="99.37" r="0.5" fill="#fff" stroke="#9a9a9a" stroke-width="0.4"/>
<circle cx="400.41" cy="109.17" r="0.6" fill="#fff" stroke="#9a9a9a" stroke-width="0.4"/>
<circle cx="395.05" cy="41.12" r="0.5" fill="#fff" stroke="#9a9a9a" stroke-width="0.4"/>
<path d="M362.67,79.28C363.01,79.17 363.9,80.02 364.19,80.55C364.48,81.08 364.56,81.82 364.39,82.46C364.22,83.09 363.58,84.15 363.18,84.36C362.77,84.58 362.13,84.26 361.96,83.73C361.79,83.2 362.05,81.93 362.17,81.18C362.28,80.44 362.33,79.38 362.67,79.28Z" fill="#fff" stroke="#7a7a7a" stroke-width="0.5"/>
<path d="M402.13,15.68 L407.7,15.68 L411.75,15.68 L417.82,15.68" fill="none" stroke="#858585" stroke-width="0.55"/>
<path d="M411.75,15.68 L410.73,21.4 L411.24,26.49 L409.72,31.58 L410.23,34.12" fill="none" stroke="#858585" stroke-width="0.55"/>
<path d="M402.13,32.85 L405.67,34.12 L410.23,34.12" fill="none" stroke="#858585" stroke-width="0.55"/>
<path d="M410.23,34.12 L413.77,34.76 L419.33,34.76" fill="none" stroke="#858585" stroke-width="0.55"/>
<path d="M410.23,34.12 L408.2,39.21 L405.67,45.57 L406.18,48.75" fill="none" stroke="#858585" stroke-width="0.55"/>
<path d="M406.18,48.75 L409.72,49.38 L412.25,48.11" fill="none" stroke="#858585" stroke-width="0.55"/>
<path d="M397.58,39.84 L400.11,44.3 L401.63,48.75 L406.18,48.75" fill="none" stroke="#858585" stroke-width="0.55"/>
<path d="M401.63,48.75 L398.59,51.93 L395.56,57.02 L395.56,60.2" fill="none" stroke="#858585" stroke-width="0.55"/>
<path d="M395.56,60.2 L399.6,60.2 L405.17,60.2 L410.23,61.47" fill="none" stroke="#858585" stroke-width="0.55"/>
<path d="M395.56,60.2 L391.51,62.1 L387.97,61.47 L384.43,61.47 L379.87,60.83" fill="none" stroke="#858585" stroke-width="0.55"/>
<path d="M379.87,60.83 L378.35,65.28 L375.32,68.46 L371.78,68.46 L370.26,66.56" fill="none" stroke="#858585" stroke-width="0.55"/>
<path d="M369.75,59.56 L370.77,62.74 L370.26,66.56" fill="none" stroke="#858585" stroke-width="0.55"/>
<path d="M364.19,69.1 L368.24,69.74 L370.26,66.56" fill="none" stroke="#858585" stroke-width="0.55"/>
<path d="M368.24,69.74 L367.22,74.19 L365.2,76.73 L362.17,76.1" fill="none" stroke="#858585" stroke-width="0.55"/>
<path d="M395.56,60.2 L396.57,64.65 L398.09,68.46 L399.6,69.74" fill="none" stroke="#858585" stroke-width="0.55"/>
<path d="M405.17,60.2 L403.65,64.65 L402.13,68.46 L400.11,69.74" fill="none" stroke="#858585" stroke-width="0.55"/>
<path d="M387.97,61.47 L387.46,65.92 L389.48,69.74 L389.48,72.28" fill="none" stroke="#858585" stroke-width="0.55"/>
<path d="M389.48,72.28 L392.52,71.01 L396.57,69.74 L399.6,69.74" fill="none" stroke="#858585" stroke-width="0.55"/>
<path d="M399.6,69.74 L401.12,72.28 L401.63,74.19" fill="none" stroke="#858585" stroke-width="0.55"/>
<path d="M401.12,72.28 L404.66,73.55 L408.71,72.92 L410.73,74.19" fill="none" stroke="#858585" stroke-width="0.55"/>
<path d="M389.99,73.55 L394.54,74.19 L398.59,74.82 L401.63,74.82" fill="none" stroke="#858585" stroke-width="0.55"/>
<path d="M401.63,74.82 L401.42,76.73" fill="none" stroke="#858585" stroke-width="0.55"/>
<path d="M392.52,76.73 L396.57,77.37 L400.11,78" fill="none" stroke="#858585" stroke-width="0.55"/>
<path d="M384.43,73.55 L389.99,73.55 L393.53,76.73 L392.52,79.28 L389.99,81.18 L387.46,82.46 L385.44,79.28 L384.43,73.55" fill="none" stroke="#858585" stroke-width="0.55"/>
<path d="M392.52,79.28 L393.03,82.46 L393.53,83.73" fill="none" stroke="#858585" stroke-width="0.55"/>
<path d="M385.44,79.28 L382.4,81.82 L379.87,83.09 L378.35,82.46 L376.84,79.91 L375.32,77.37 L377.34,73.55 L378.35,69.74 L378.35,65.28" fill="none" stroke="#858585" stroke-width="0.55"/>
<path d="M379.87,83.09 L378.35,86.27 L377.34,89.45" fill="none" stroke="#858585" stroke-width="0.55"/>
<path d="M378.35,82.46 L375.32,81.18 L372.28,80.55 L369.25,81.82" fill="none" stroke="#858585" stroke-width="0.55"/>
<path d="M369.25,81.82 L367.22,82.46 L366.21,79.91 L365.2,76.73" fill="none" stroke="#858585" stroke-width="0.55"/>
<path d="M366.21,82.46 L363.18,86.27 L362.17,88.82 L361.15,91.36 L362.17,95.18 L360.65,98.99 L360.14,102.81" fill="none" stroke="#858585" stroke-width="0.55"/>
<path d="M365.2,76.73 L362.17,78.64 L360.65,82.46 L361.15,86.27" fill="none" stroke="#858585" stroke-width="0.55"/>
<path d="M356.6,93.9 L360.14,95.18 L362.17,95.18" fill="none" stroke="#858585" stroke-width="0.55"/>
<path d="M356.6,86.27 L359.13,86.91 L361.15,88.18" fill="none" stroke="#858585" stroke-width="0.55"/>
<path d="M384.43,61.47 L382.4,65.92 L379.87,69.74 L378.35,69.74" fill="none" stroke="#858585" stroke-width="0.55"/>
<path d="M392.52,76.73 L394.04,79.28 L393.53,81.82" fill="none" stroke="#858585" stroke-width="0.55"/>
<path d="M390.5,81.18 L392.01,83.73 L393.03,85.64" fill="none" stroke="#858585" stroke-width="0.55"/>
<path d="M376.84,79.91 L379.37,76.73 L382.4,74.82 L384.43,73.55" fill="none" stroke="#858585" stroke-width="0.55"/>
<path d="M375.32,77.37 L373.3,73.55 L371.27,71.01 L371.78,68.46" fill="none" stroke="#858585" stroke-width="0.55"/>
<path d="M368.24,69.74 L371.27,71.01" fill="none" stroke="#858585" stroke-width="0.55"/>
<path d="M387.97,61.47 L391.51,57.02 L395.56,57.02" fill="none" stroke="#858585" stroke-width="0.55"/>
<path d="M397.58,39.84 L401.63,35.39 L402.13,32.85" fill="none" stroke="#858585" stroke-width="0.55"/>
<path d="M405.67,45.57 L408.71,43.02 L411.75,43.66" fill="none" stroke="#858585" stroke-width="0.55"/>
<path d="M403.65,64.65 L406.69,65.92 L408.71,66.56" fill="none" stroke="#858585" stroke-width="0.55"/>
<path d="M396.57,64.65 L392.52,66.56 L389.48,69.74" fill="none" stroke="#858585" stroke-width="0.55"/>
<path d="M361.15,91.36 L358.12,90.09 L356.6,88.82" fill="none" stroke="#858585" stroke-width="0.55"/>
<path d="M362.17,95.18 L365.2,92.63 L368.24,91.36" fill="none" stroke="#858585" stroke-width="0.55"/>
<path d="M356.6,82.46 L359.13,81.18 L360.65,82.46" fill="none" stroke="#858585" stroke-width="0.55"/>
<path d="M380.5,181.3C380.1,180.2 378.98,177.68 378.1,174.7C377.22,171.72 376.25,166.93 375.2,163.4C374.15,159.87 372.27,157.6 371.8,153.5C371.33,149.4 372.08,143.93 372.4,138.8C372.72,133.67 373.17,126.77 373.7,122.7C374.23,118.63 375,116.45 375.6,114.4C376.2,112.35 376.58,112.42 377.3,110.4C378.02,108.38 378.8,104.77 379.9,102.3C381,99.83 382.57,97.7 383.9,95.6C385.23,93.5 386.57,91.47 387.9,89.7C389.23,87.93 390.9,86.33 391.9,85C392.9,83.67 393.12,82.95 393.9,81.7C394.68,80.45 395.58,78.8 396.6,77.5C397.62,76.2 398.02,76.52 400,73.9C401.98,71.28 405.67,65.47 408.5,61.8C411.33,58.13 414.17,54.62 417,51.9C419.83,49.18 422.67,47.63 425.5,45.5C428.33,43.37 431.15,41.23 434,39.1C436.85,36.97 440.23,34.47 442.6,32.7C444.97,30.93 446.55,29.8 448.2,28.5C449.85,27.2 451.78,25.5 452.5,24.9" fill="none" stroke="#1c3cff" stroke-width="1.7"/>
<circle cx="380.5" cy="181.3" r="3.7" fill="#1c3cff"/>
<circle cx="371.8" cy="153.5" r="3.7" fill="#1c3cff"/>
<circle cx="373.7" cy="122.7" r="3.7" fill="#1c3cff"/>
<circle cx="393.9" cy="81.7" r="3.7" fill="#1c3cff"/>
<circle cx="452.5" cy="24.9" r="3.7" fill="#1c3cff"/>
<text x="463.3" y="28.2" font-family="Liberation Sans" font-size="8.3" font-weight="bold" fill="#1c3cff" textLength="38.8" lengthAdjust="spacingAndGlyphs" stroke="#fff" stroke-width="1.6" paint-order="stroke" stroke-linejoin="round">13Z00OCT</text>
<text x="404.2" y="84.5" font-family="Liberation Sans" font-size="8.3" font-weight="bold" fill="#1c3cff" textLength="38.8" lengthAdjust="spacingAndGlyphs" stroke="#fff" stroke-width="1.6" paint-order="stroke" stroke-linejoin="round">12Z12OCT</text>
<text x="384" y="124.9" font-family="Liberation Sans" font-size="8.3" font-weight="bold" fill="#1c3cff" textLength="38.8" lengthAdjust="spacingAndGlyphs" stroke="#fff" stroke-width="1.6" paint-order="stroke" stroke-linejoin="round">12Z00OCT</text>
<text x="381.6" y="156.5" font-family="Liberation Sans" font-size="8.3" font-weight="bold" fill="#1c3cff" textLength="38.8" lengthAdjust="spacingAndGlyphs" stroke="#fff" stroke-width="1.6" paint-order="stroke" stroke-linejoin="round">11Z12OCT</text>
<text x="390.8" y="184.2" font-family="Liberation Sans" font-size="8.3" font-weight="bold" fill="#1c3cff" textLength="38.8" lengthAdjust="spacingAndGlyphs" stroke="#fff" stroke-width="1.6" paint-order="stroke" stroke-linejoin="round">11Z00OCT</text>
</g>
<rect x="356.6" y="14.6" width="162.4" height="197.6" fill="none" stroke="#3c3c3c" stroke-width="1.1"/>
<line x1="402.64" y1="212.2" x2="402.64" y2="214.79999999999998" stroke="#333" stroke-width="1"/>
<text x="402.64" y="224.9" font-family="Liberation Sans" font-size="10.5" text-anchor="middle" fill="#111" textLength="21.9" lengthAdjust="spacingAndGlyphs" stroke="#111" stroke-width="0.2">140E</text>
<line x1="453.23" y1="212.2" x2="453.23" y2="214.79999999999998" stroke="#333" stroke-width="1"/>
<text x="453.23" y="224.9" font-family="Liberation Sans" font-size="10.5" text-anchor="middle" fill="#111" textLength="21.9" lengthAdjust="spacingAndGlyphs" stroke="#111" stroke-width="0.2">145E</text>
<line x1="503.82" y1="212.2" x2="503.82" y2="214.79999999999998" stroke="#333" stroke-width="1"/>
<text x="503.82" y="224.9" font-family="Liberation Sans" font-size="10.5" text-anchor="middle" fill="#111" textLength="21.9" lengthAdjust="spacingAndGlyphs" stroke="#111" stroke-width="0.2">150E</text>
<clipPath id="clipd"><rect x="522.5" y="14.6" width="162.5" height="197.6"/></clipPath>
<g clip-path="url(#clipd)">
<path d="M521,13L686,13L686,214L521,214Z" fill="#00bfff"/>
<path d="M521,33.4C522.12,32.93 525.17,31.65 527.7,30.6C530.23,29.55 533.37,28.28 536.2,27.1C539.03,25.92 541.87,24.57 544.7,23.5C547.53,22.43 550.6,21.65 553.2,20.7C555.8,19.75 558.4,18.67 560.3,17.8C562.2,16.93 563.65,16.3 564.6,15.5C565.55,14.7 565.77,13.42 566,13L521,13Z" fill="#ffffff"/>
<path d="M521,33.4C522.12,32.93 525.17,31.65 527.7,30.6C530.23,29.55 533.37,28.28 536.2,27.1C539.03,25.92 541.87,24.57 544.7,23.5C547.53,22.43 550.6,21.65 553.2,20.7C555.8,19.75 558.4,18.67 560.3,17.8C562.2,16.93 563.65,16.3 564.6,15.5C565.55,14.7 565.77,13.42 566,13" fill="none" stroke="#3a3a3a" stroke-width="0.6"/>
<path d="M607.7,13C607.58,15 607.37,21.67 607,25C606.63,28.33 606.3,30.1 605.5,33C604.7,35.9 603.63,40.12 602.2,42.4C600.77,44.68 598.67,45.72 596.9,46.7C595.13,47.68 593.58,47.75 591.6,48.3C589.62,48.85 587.27,49.13 585,50C582.73,50.87 579.83,52.5 578,53.5C576.17,54.5 574.67,55.58 574,56L570,50L575,13Z" fill="#ffffff"/>
<path d="M607.7,13C607.58,15 607.37,21.67 607,25C606.63,28.33 606.3,30.1 605.5,33C604.7,35.9 603.63,40.12 602.2,42.4C600.77,44.68 598.67,45.72 596.9,46.7C595.13,47.68 593.58,47.75 591.6,48.3C589.62,48.85 587.27,49.13 585,50C582.73,50.87 579.83,52.5 578,53.5C576.17,54.5 574.67,55.58 574,56" fill="none" stroke="#3a3a3a" stroke-width="0.6"/>
<path d="M616.2,13C616.32,14.37 616.27,19.33 616.9,21.2C617.53,23.07 618.72,22.93 620,24.2C621.28,25.47 622.8,27 624.6,28.8C626.4,30.6 628.48,33.45 630.8,35C633.12,36.55 635.68,37.97 638.5,38.1C641.32,38.23 644.63,36.83 647.7,35.8C650.77,34.77 654.08,33.07 656.9,31.9C659.72,30.73 662.8,30.33 664.6,28.8C666.4,27.27 667.18,25.33 667.7,22.7C668.22,20.07 667.7,14.62 667.7,13L667.7,10L616.2,10Z" fill="#ffffff"/>
<path d="M616.2,13C616.32,14.37 616.27,19.33 616.9,21.2C617.53,23.07 618.72,22.93 620,24.2C621.28,25.47 622.8,27 624.6,28.8C626.4,30.6 628.48,33.45 630.8,35C633.12,36.55 635.68,37.97 638.5,38.1C641.32,38.23 644.63,36.83 647.7,35.8C650.77,34.77 654.08,33.07 656.9,31.9C659.72,30.73 662.8,30.33 664.6,28.8C666.4,27.27 667.18,25.33 667.7,22.7C668.22,20.07 667.7,14.62 667.7,13" fill="none" stroke="#3a3a3a" stroke-width="0.6"/>
<path d="M543.3,44.8C544.37,43.15 546.88,39.83 549,37.7C551.12,35.57 554.12,33.3 556,32C557.88,30.7 558.87,30.13 560.3,29.9C561.73,29.67 563.53,30.02 564.6,30.6C565.67,31.18 566.47,32.17 566.7,33.4C566.93,34.63 566.6,36.57 566,38C565.4,39.43 564.52,40.4 563.1,42C561.68,43.6 559.62,45.95 557.5,47.6C555.38,49.25 552.53,50.48 550.4,51.9C548.27,53.32 546,55.87 544.7,56.1C543.4,56.33 542.95,54.72 542.6,53.3C542.25,51.88 542.48,49.02 542.6,47.6C542.72,46.18 542.23,46.45 543.3,44.8Z" fill="#45c5ff"/>
<path d="M543.3,44.8C544.37,43.15 546.88,39.83 549,37.7C551.12,35.57 554.12,33.3 556,32C557.88,30.7 558.87,30.13 560.3,29.9C561.73,29.67 563.53,30.02 564.6,30.6C565.67,31.18 566.47,32.17 566.7,33.4C566.93,34.63 566.6,36.57 566,38C565.4,39.43 564.52,40.4 563.1,42C561.68,43.6 559.62,45.95 557.5,47.6C555.38,49.25 552.53,50.48 550.4,51.9C548.27,53.32 546,55.87 544.7,56.1C543.4,56.33 542.95,54.72 542.6,53.3C542.25,51.88 542.48,49.02 542.6,47.6C542.72,46.18 542.23,46.45 543.3,44.8Z" fill="none" stroke="#3a3a3a" stroke-width="0.6"/>
<path d="M526.3,60.4C526.77,59.45 528.85,57.52 530.5,56.8C532.15,56.08 535.12,55.73 536.2,56.1C537.28,56.47 537.72,57.93 537,59C536.28,60.07 533.45,61.92 531.9,62.5C530.35,63.08 528.63,62.85 527.7,62.5C526.77,62.15 525.83,61.35 526.3,60.4Z" fill="#45c5ff"/>
<path d="M526.3,60.4C526.77,59.45 528.85,57.52 530.5,56.8C532.15,56.08 535.12,55.73 536.2,56.1C537.28,56.47 537.72,57.93 537,59C536.28,60.07 533.45,61.92 531.9,62.5C530.35,63.08 528.63,62.85 527.7,62.5C526.77,62.15 525.83,61.35 526.3,60.4Z" fill="none" stroke="#3a3a3a" stroke-width="0.6"/>
<path d="M572,72C572.43,71.68 574,71.12 574.6,70.1C575.2,69.08 574.9,67.67 575.6,65.9C576.3,64.13 577.9,61.1 578.8,59.5C579.7,57.9 579.4,57.37 581,56.3C582.6,55.23 585.75,54.17 588.4,53.1C591.05,52.03 594.07,51.15 596.9,49.9C599.73,48.65 602.92,47.02 605.4,45.6C607.88,44.18 609.85,42.72 611.8,41.4C613.75,40.08 615.5,38.05 617.1,37.7C618.7,37.35 620.08,38.52 621.4,39.3C622.72,40.08 623.9,41.45 625,42.4C626.1,43.35 626.27,44.18 628,45C629.73,45.82 632.63,46.67 635.4,47.3C638.17,47.93 641.53,48.15 644.6,48.8C647.67,49.45 651.48,50.42 653.8,51.2C656.12,51.98 656.7,54.15 658.5,53.5C660.3,52.85 662.3,49.23 664.6,47.3C666.9,45.37 669.73,43.7 672.3,41.9C674.87,40.1 677.72,37.65 680,36.5C682.28,35.35 685,35.25 686,35L686,214L521,214L521,110L545,92L565,70Z" fill="#45c5ff"/>
<path d="M572,72C572.43,71.68 574,71.12 574.6,70.1C575.2,69.08 574.9,67.67 575.6,65.9C576.3,64.13 577.9,61.1 578.8,59.5C579.7,57.9 579.4,57.37 581,56.3C582.6,55.23 585.75,54.17 588.4,53.1C591.05,52.03 594.07,51.15 596.9,49.9C599.73,48.65 602.92,47.02 605.4,45.6C607.88,44.18 609.85,42.72 611.8,41.4C613.75,40.08 615.5,38.05 617.1,37.7C618.7,37.35 620.08,38.52 621.4,39.3C622.72,40.08 623.9,41.45 625,42.4C626.1,43.35 626.27,44.18 628,45C629.73,45.82 632.63,46.67 635.4,47.3C638.17,47.93 641.53,48.15 644.6,48.8C647.67,49.45 651.48,50.42 653.8,51.2C656.12,51.98 656.7,54.15 658.5,53.5C660.3,52.85 662.3,49.23 664.6,47.3C666.9,45.37 669.73,43.7 672.3,41.9C674.87,40.1 677.72,37.65 680,36.5C682.28,35.35 685,35.25 686,35" fill="none" stroke="#3a3a3a" stroke-width="0.6"/>
<path d="M576,75C576.47,74.53 577.62,73.72 578.8,72.2C579.98,70.68 581.68,67.48 583.1,65.9C584.52,64.32 585.53,64.03 587.3,62.7C589.07,61.37 591.22,59.33 593.7,57.9C596.18,56.47 599.37,55.35 602.2,54.1C605.03,52.85 608.03,51.28 610.7,50.4C613.37,49.52 615.82,48.88 618.2,48.8C620.58,48.72 623.12,49.23 625,49.9C626.88,50.57 627.25,51.32 629.5,52.8C631.75,54.28 635.22,57.4 638.5,58.8C641.78,60.2 645.37,61.07 649.2,61.2C653.03,61.33 657.65,60.25 661.5,59.6C665.35,58.95 668.22,57.93 672.3,57.3C676.38,56.67 683.72,56.05 686,55.8L686,214L521,214L521,110L545,92L565,72Z" fill="#87cefa"/>
<path d="M576,75C576.47,74.53 577.62,73.72 578.8,72.2C579.98,70.68 581.68,67.48 583.1,65.9C584.52,64.32 585.53,64.03 587.3,62.7C589.07,61.37 591.22,59.33 593.7,57.9C596.18,56.47 599.37,55.35 602.2,54.1C605.03,52.85 608.03,51.28 610.7,50.4C613.37,49.52 615.82,48.88 618.2,48.8C620.58,48.72 623.12,49.23 625,49.9C626.88,50.57 627.25,51.32 629.5,52.8C631.75,54.28 635.22,57.4 638.5,58.8C641.78,60.2 645.37,61.07 649.2,61.2C653.03,61.33 657.65,60.25 661.5,59.6C665.35,58.95 668.22,57.93 672.3,57.3C676.38,56.67 683.72,56.05 686,55.8" fill="none" stroke="#3a3a3a" stroke-width="0.6"/>
<path d="M578,78C578.5,77.57 579.62,76.9 581,75.4C582.38,73.9 584.53,70.95 586.3,69C588.07,67.05 589.48,65.28 591.6,63.7C593.72,62.12 596.33,60.83 599,59.5C601.67,58.17 604.75,56.68 607.6,55.7C610.45,54.72 613.2,53.87 616.1,53.6C619,53.33 622.52,53.37 625,54.1C627.48,54.83 628.25,56.32 631,58C633.75,59.68 637.7,62.78 641.5,64.2C645.3,65.62 649.68,66.37 653.8,66.5C657.92,66.63 662.35,65.77 666.2,65C670.05,64.23 673.6,62.53 676.9,61.9C680.2,61.27 684.48,61.32 686,61.2L686,214L521,214L521,110L545,92L566,74Z" fill="#c0e4e4"/>
<path d="M578,78C578.5,77.57 579.62,76.9 581,75.4C582.38,73.9 584.53,70.95 586.3,69C588.07,67.05 589.48,65.28 591.6,63.7C593.72,62.12 596.33,60.83 599,59.5C601.67,58.17 604.75,56.68 607.6,55.7C610.45,54.72 613.2,53.87 616.1,53.6C619,53.33 622.52,53.37 625,54.1C627.48,54.83 628.25,56.32 631,58C633.75,59.68 637.7,62.78 641.5,64.2C645.3,65.62 649.68,66.37 653.8,66.5C657.92,66.63 662.35,65.77 666.2,65C670.05,64.23 673.6,62.53 676.9,61.9C680.2,61.27 684.48,61.32 686,61.2" fill="none" stroke="#3a3a3a" stroke-width="0.6"/>
<path d="M557,83C557.67,83.6 559.5,85.73 561,86.6C562.5,87.47 564.45,87.87 566,88.2C567.55,88.53 568.38,89.05 570.3,88.6C572.22,88.15 575.45,86.87 577.5,85.5C579.55,84.13 581.13,81.9 582.6,80.4C584.07,78.9 584.8,78.22 586.3,76.5C587.8,74.78 589.83,72.05 591.6,70.1C593.37,68.15 594.77,66.4 596.9,64.8C599.03,63.2 601.73,61.65 604.4,60.5C607.07,59.35 610.25,58.43 612.9,57.9C615.55,57.37 618.28,57.3 620.3,57.3C622.32,57.3 623,56.87 625,57.9C627,58.93 629.03,61.42 632.3,63.5C635.57,65.58 640.5,68.87 644.6,70.4C648.7,71.93 652.8,72.7 656.9,72.7C661,72.7 664.35,71.17 669.2,70.4C674.05,69.63 683.2,68.48 686,68.1L686,214L521,214L521,95L530,84L545,82L555,81Z" fill="#fef8cc"/>
<path d="M557,83C557.67,83.6 559.5,85.73 561,86.6C562.5,87.47 564.45,87.87 566,88.2C567.55,88.53 568.38,89.05 570.3,88.6C572.22,88.15 575.45,86.87 577.5,85.5C579.55,84.13 581.13,81.9 582.6,80.4C584.07,78.9 584.8,78.22 586.3,76.5C587.8,74.78 589.83,72.05 591.6,70.1C593.37,68.15 594.77,66.4 596.9,64.8C599.03,63.2 601.73,61.65 604.4,60.5C607.07,59.35 610.25,58.43 612.9,57.9C615.55,57.37 618.28,57.3 620.3,57.3C622.32,57.3 623,56.87 625,57.9C627,58.93 629.03,61.42 632.3,63.5C635.57,65.58 640.5,68.87 644.6,70.4C648.7,71.93 652.8,72.7 656.9,72.7C661,72.7 664.35,71.17 669.2,70.4C674.05,69.63 683.2,68.48 686,68.1" fill="none" stroke="#3a3a3a" stroke-width="0.6"/>
<path d="M521,119C521.5,119.5 522.83,120.5 524,122C525.17,123.5 526.5,126 528,128C529.5,130 531,132.67 533,134C535,135.33 537.68,136.37 540,136C542.32,135.63 545.12,133.43 546.9,131.8C548.68,130.17 549.75,128.4 550.7,126.2C551.65,124 552.35,121.45 552.6,118.6C552.85,115.75 552.2,112.57 552.2,109.1C552.2,105.63 552.22,100.9 552.6,97.8C552.98,94.7 553.93,92.13 554.5,90.5C555.07,88.87 555.75,88.42 556,88L558,87L558,89C558.35,89.33 558.82,90.15 560.1,91C561.38,91.85 563.67,93.73 565.7,94.1C567.73,94.47 570.42,93.9 572.3,93.2C574.18,92.5 575.9,91.08 577,89.9C578.1,88.72 577.9,86.95 578.9,86.1C579.9,85.25 581.15,85.1 583,84.8C584.85,84.5 587.92,84.5 590,84.3C592.08,84.1 594.23,83.57 595.5,83.6C596.77,83.63 597.05,82.82 597.6,84.5C598.15,86.18 598.13,91.07 598.8,93.7C599.47,96.33 600.65,98.42 601.6,100.3C602.55,102.18 603.7,103.38 604.5,105C605.3,106.62 605.73,108.42 606.4,110C607.07,111.58 607.55,113.37 608.5,114.5C609.45,115.63 610.83,117.33 612.1,116.8C613.37,116.27 615.1,114.23 616.1,111.3C617.1,108.37 617.1,102.05 618.1,99.2C619.1,96.35 620.43,95.2 622.1,94.2C623.77,93.2 626.42,92.7 628.1,93.2C629.78,93.7 631.18,94.85 632.2,97.2C633.22,99.55 633.53,103.95 634.2,107.3C634.87,110.65 634.87,114.3 636.2,117.3C637.53,120.3 639.87,123.45 642.2,125.3C644.53,127.15 647.52,128.07 650.2,128.4C652.88,128.73 655.95,128.82 658.3,127.3C660.65,125.78 662.3,122.13 664.3,119.3C666.3,116.47 668.28,112.48 670.3,110.3C672.32,108.12 674.38,107.05 676.4,106.2C678.42,105.35 680.8,105.2 682.4,105.2C684,105.2 685.4,106.03 686,106.2L686,214L521,214Z" fill="#fdc266"/>
<path d="M521,119C521.5,119.5 522.83,120.5 524,122C525.17,123.5 526.5,126 528,128C529.5,130 531,132.67 533,134C535,135.33 537.68,136.37 540,136C542.32,135.63 545.12,133.43 546.9,131.8C548.68,130.17 549.75,128.4 550.7,126.2C551.65,124 552.35,121.45 552.6,118.6C552.85,115.75 552.2,112.57 552.2,109.1C552.2,105.63 552.22,100.9 552.6,97.8C552.98,94.7 553.93,92.13 554.5,90.5C555.07,88.87 555.75,88.42 556,88M558,89C558.35,89.33 558.82,90.15 560.1,91C561.38,91.85 563.67,93.73 565.7,94.1C567.73,94.47 570.42,93.9 572.3,93.2C574.18,92.5 575.9,91.08 577,89.9C578.1,88.72 577.9,86.95 578.9,86.1C579.9,85.25 581.15,85.1 583,84.8C584.85,84.5 587.92,84.5 590,84.3C592.08,84.1 594.23,83.57 595.5,83.6C596.77,83.63 597.05,82.82 597.6,84.5C598.15,86.18 598.13,91.07 598.8,93.7C599.47,96.33 600.65,98.42 601.6,100.3C602.55,102.18 603.7,103.38 604.5,105C605.3,106.62 605.73,108.42 606.4,110C607.07,111.58 607.55,113.37 608.5,114.5C609.45,115.63 610.83,117.33 612.1,116.8C613.37,116.27 615.1,114.23 616.1,111.3C617.1,108.37 617.1,102.05 618.1,99.2C619.1,96.35 620.43,95.2 622.1,94.2C623.77,93.2 626.42,92.7 628.1,93.2C629.78,93.7 631.18,94.85 632.2,97.2C633.22,99.55 633.53,103.95 634.2,107.3C634.87,110.65 634.87,114.3 636.2,117.3C637.53,120.3 639.87,123.45 642.2,125.3C644.53,127.15 647.52,128.07 650.2,128.4C652.88,128.73 655.95,128.82 658.3,127.3C660.65,125.78 662.3,122.13 664.3,119.3C666.3,116.47 668.28,112.48 670.3,110.3C672.32,108.12 674.38,107.05 676.4,106.2C678.42,105.35 680.8,105.2 682.4,105.2C684,105.2 685.4,106.03 686,106.2" fill="none" stroke="#3a3a3a" stroke-width="0.6"/>
<path d="M605.6,75.3C605.6,76.31 605.15,77.62 604.55,78.34C603.95,79.06 602.85,79.6 602,79.6C601.15,79.6 600.05,79.06 599.45,78.34C598.85,77.62 598.4,76.31 598.4,75.3C598.4,74.29 598.85,72.98 599.45,72.26C600.05,71.54 601.15,71 602,71C602.85,71 603.95,71.54 604.55,72.26C605.15,72.98 605.6,74.29 605.6,75.3Z" fill="#fdc266"/>
<path d="M605.6,75.3C605.6,76.31 605.15,77.62 604.55,78.34C603.95,79.06 602.85,79.6 602,79.6C601.15,79.6 600.05,79.06 599.45,78.34C598.85,77.62 598.4,76.31 598.4,75.3C598.4,74.29 598.85,72.98 599.45,72.26C600.05,71.54 601.15,71 602,71C602.85,71 603.95,71.54 604.55,72.26C605.15,72.98 605.6,74.29 605.6,75.3Z" fill="none" stroke="#3a3a3a" stroke-width="0.6"/>
<path d="M654.3,98.2C653.97,96.7 654.97,93.38 656.3,91.2C657.63,89.02 659.97,86.78 662.3,85.1C664.63,83.42 667.78,81.43 670.3,81.1C672.82,80.77 676.22,81.92 677.4,83.1C678.58,84.28 678.58,86.85 677.4,88.2C676.22,89.55 672.82,90.03 670.3,91.2C667.78,92.37 664.3,93.7 662.3,95.2C660.3,96.7 659.63,99.7 658.3,100.2C656.97,100.7 654.63,99.7 654.3,98.2Z" fill="#fdc266"/>
<path d="M654.3,98.2C653.97,96.7 654.97,93.38 656.3,91.2C657.63,89.02 659.97,86.78 662.3,85.1C664.63,83.42 667.78,81.43 670.3,81.1C672.82,80.77 676.22,81.92 677.4,83.1C678.58,84.28 678.58,86.85 677.4,88.2C676.22,89.55 672.82,90.03 670.3,91.2C667.78,92.37 664.3,93.7 662.3,95.2C660.3,96.7 659.63,99.7 658.3,100.2C656.97,100.7 654.63,99.7 654.3,98.2Z" fill="none" stroke="#3a3a3a" stroke-width="0.6"/>
<path d="M521,157C521.4,156.05 522.07,152.47 523.4,151.3C524.73,150.13 527,150.22 529,150C531,149.78 532.73,149.5 535.4,150C538.07,150.5 541.82,151.78 545,153C548.18,154.22 551.5,156.47 554.5,157.3C557.5,158.13 560.2,158 563,158C565.8,158 568.47,158.13 571.3,157.3C574.13,156.47 577.55,154.22 580,153C582.45,151.78 584.42,150.33 586,150C587.58,149.67 588.63,149.03 589.5,151C590.37,152.97 590.53,159.02 591.2,161.8C591.87,164.58 592.12,166.12 593.5,167.7C594.88,169.28 597.52,169.72 599.5,171.3C601.48,172.88 603.63,175.03 605.4,177.2C607.17,179.37 608.73,181.35 610.1,184.3C611.47,187.25 612.53,192.15 613.6,194.9C614.67,197.65 614.75,199.17 616.5,200.8C618.25,202.43 621.68,203.48 624.1,204.7C626.52,205.92 628.98,207.02 631,208.1C633.02,209.18 635.03,210.22 636.2,211.2C637.37,212.18 637.7,213.53 638,214L521,214Z" fill="#ff8c00"/>
<path d="M521,157C521.4,156.05 522.07,152.47 523.4,151.3C524.73,150.13 527,150.22 529,150C531,149.78 532.73,149.5 535.4,150C538.07,150.5 541.82,151.78 545,153C548.18,154.22 551.5,156.47 554.5,157.3C557.5,158.13 560.2,158 563,158C565.8,158 568.47,158.13 571.3,157.3C574.13,156.47 577.55,154.22 580,153C582.45,151.78 584.42,150.33 586,150C587.58,149.67 588.63,149.03 589.5,151C590.37,152.97 590.53,159.02 591.2,161.8C591.87,164.58 592.12,166.12 593.5,167.7C594.88,169.28 597.52,169.72 599.5,171.3C601.48,172.88 603.63,175.03 605.4,177.2C607.17,179.37 608.73,181.35 610.1,184.3C611.47,187.25 612.53,192.15 613.6,194.9C614.67,197.65 614.75,199.17 616.5,200.8C618.25,202.43 621.68,203.48 624.1,204.7C626.52,205.92 628.98,207.02 631,208.1C633.02,209.18 635.03,210.22 636.2,211.2C637.37,212.18 637.7,213.53 638,214" fill="none" stroke="#3a3a3a" stroke-width="0.6"/>
<path d="M653.4,214C652.83,211.15 650.57,201.18 650,196.9C649.43,192.62 649.43,190.88 650,188.3C650.57,185.72 651.97,183.13 653.4,181.4C654.83,179.67 656.58,178.92 658.6,177.9C660.62,176.88 663.63,176.15 665.5,175.3C667.37,174.45 668.93,174.37 669.8,172.8C670.67,171.23 669.98,167.68 670.7,165.9C671.42,164.12 672.82,162.53 674.1,162.1C675.38,161.67 677.38,162.1 678.4,163.3C679.42,164.5 679.77,166.87 680.2,169.3C680.63,171.73 680.43,175.88 681,177.9C681.57,179.92 682.77,180.72 683.6,181.4C684.43,182.08 685.6,181.9 686,182L686,214Z" fill="#ff8c00"/>
<path d="M653.4,214C652.83,211.15 650.57,201.18 650,196.9C649.43,192.62 649.43,190.88 650,188.3C650.57,185.72 651.97,183.13 653.4,181.4C654.83,179.67 656.58,178.92 658.6,177.9C660.62,176.88 663.63,176.15 665.5,175.3C667.37,174.45 668.93,174.37 669.8,172.8C670.67,171.23 669.98,167.68 670.7,165.9C671.42,164.12 672.82,162.53 674.1,162.1C675.38,161.67 677.38,162.1 678.4,163.3C679.42,164.5 679.77,166.87 680.2,169.3C680.63,171.73 680.43,175.88 681,177.9C681.57,179.92 682.77,180.72 683.6,181.4C684.43,182.08 685.6,181.9 686,182" fill="none" stroke="#3a3a3a" stroke-width="0.6"/>
<path d="M517.94,77.37 L520.98,78 L522.5,78.64 L524.02,78.64 L525.54,78.89 L527.06,77.37 L528.07,76.1 L528.57,72.92 L529.28,70.37 L531.11,67.83 L533.64,64.01 L535.16,61.47 L535.36,58.92 L535.66,57.02 L536.67,55.74 L538.19,54.47 L540.22,53.2 L541.74,53.84 L541.23,55.11 L539.21,57.02 L538.19,58.29 L537.69,60.2 L538.7,62.1 L540.72,62.74 L542.24,62.1 L544.27,60.2 L546.29,59.31 L548.32,58.29 L550.85,57.02 L553.38,55.11 L555.4,52.56 L556.92,50.02 L558.95,47.48 L560.97,45.57 L563,43.66 L563.5,40.48 L564.52,36.66 L566.54,33.48 L568.06,30.3 L568.57,27.12 L569.07,24.58 L567.55,23.31 L565.53,22.67 L566.04,21.4 L568.06,20.13 L568.57,16.95 L567.55,13.77 L567.05,11.22 L583.75,11.22 L583.75,14.4 L584.77,15.68 L586.29,18.22 L587.3,21.4 L588.31,24.58 L589.32,27.12 L588.31,30.3 L587.3,33.48 L585.27,35.39 L584.26,37.94 L583.75,41.75 L581.73,42.39 L579.7,43.02 L578.69,44.93 L578.19,48.11 L578.69,51.29 L578.89,54.47 L578.49,58.29 L577.17,60.83 L575.65,63.38 L574.64,66.56 L574.14,69.1 L575.15,71.64 L576.16,74.19 L577.38,75.84 L575.65,76.73 L573.12,78.64 L572.62,81.18 L572.11,83.09 L570.09,84.36 L568.57,86.02 L567.05,86.02 L566.54,85 L566.74,83.09 L567.55,81.18 L569.07,78.64 L569.58,77.37 L568.06,76.48 L566.54,76.73 L566.04,78 L565.02,79.66 L565.33,81.44 L565.73,82.46 L565.02,83.35 L564.52,82.46 L564.01,81.18 L561.99,81.18 L559.96,81.82 L559.45,83.73 L559.45,85.64 L558.44,88.18 L556.92,90.09 L555.91,88.82 L556.21,86.27 L555.91,84.36 L554.39,83.73 L552.87,85.64 L551.36,87.54 L550.34,90.09 L548.32,89.83 L545.28,89.45 L542.24,89.83 L538.7,90.34 L538.19,89.45 L539.71,88.82 L540.22,88.05 L538.19,88.05 L537.18,88.18 L536.37,86.27 L535.36,86.53 L534.35,88.18 L534.14,90.09 L535.16,91.36 L537.18,92 L536.67,93.9 L534.65,95.18 L531.61,96.45 L530.09,98.36 L528.57,100.9 L526.55,104.08 L525.54,104.72 L524.02,104.08 L522.5,103.44 L520.98,101.54 L518.96,98.99 L517.94,95.18Z" fill="#fff" stroke="#7a7a7a" stroke-width="0.6" stroke-linejoin="round"/>
<path d="M550.55,49.13 L550.85,47.48 L551.66,45.57 L552.87,43.66 L553.58,42.77 L553.89,44.3 L552.87,46.2 L551.86,47.09 L553.58,47.73 L554.19,48.75 L552.87,49.38 L551.36,49.38Z" fill="#fff" stroke="#8a8a8a" stroke-width="0.55"/>
<circle cx="562.49" cy="88.43" r="0.8" fill="#fff" stroke="#9a9a9a" stroke-width="0.4"/>
<circle cx="561.18" cy="93.01" r="0.5" fill="#fff" stroke="#9a9a9a" stroke-width="0.4"/>
<circle cx="563.81" cy="96.7" r="0.5" fill="#fff" stroke="#9a9a9a" stroke-width="0.4"/>
<circle cx="564.52" cy="99.37" r="0.5" fill="#fff" stroke="#9a9a9a" stroke-width="0.4"/>
<circle cx="566.34" cy="109.17" r="0.6" fill="#fff" stroke="#9a9a9a" stroke-width="0.4"/>
<circle cx="560.97" cy="41.12" r="0.5" fill="#fff" stroke="#9a9a9a" stroke-width="0.4"/>
<path d="M528.57,79.28C528.91,79.17 529.81,80.02 530.09,80.55C530.38,81.08 530.46,81.82 530.3,82.46C530.13,83.09 529.49,84.15 529.08,84.36C528.68,84.58 528.03,84.26 527.87,83.73C527.7,83.2 527.95,81.93 528.07,81.18C528.19,80.44 528.24,79.38 528.57,79.28Z" fill="#00bfff" stroke="#7a7a7a" stroke-width="0.5"/>
<path d="M568.06,15.68 L573.63,15.68 L577.68,15.68 L583.75,15.68" fill="none" stroke="#858585" stroke-width="0.55"/>
<path d="M577.68,15.68 L576.67,21.4 L577.17,26.49 L575.65,31.58 L576.16,34.12" fill="none" stroke="#858585" stroke-width="0.55"/>
<path d="M568.06,32.85 L571.6,34.12 L576.16,34.12" fill="none" stroke="#858585" stroke-width="0.55"/>
<path d="M576.16,34.12 L579.7,34.76 L585.27,34.76" fill="none" stroke="#858585" stroke-width="0.55"/>
<path d="M576.16,34.12 L574.14,39.21 L571.6,45.57 L572.11,48.75" fill="none" stroke="#858585" stroke-width="0.55"/>
<path d="M572.11,48.75 L575.65,49.38 L578.19,48.11" fill="none" stroke="#858585" stroke-width="0.55"/>
<path d="M563.5,39.84 L566.04,44.3 L567.55,48.75 L572.11,48.75" fill="none" stroke="#858585" stroke-width="0.55"/>
<path d="M567.55,48.75 L564.52,51.93 L561.48,57.02 L561.48,60.2" fill="none" stroke="#858585" stroke-width="0.55"/>
<path d="M561.48,60.2 L565.53,60.2 L571.1,60.2 L576.16,61.47" fill="none" stroke="#858585" stroke-width="0.55"/>
<path d="M561.48,60.2 L557.43,62.1 L553.89,61.47 L550.34,61.47 L545.79,60.83" fill="none" stroke="#858585" stroke-width="0.55"/>
<path d="M545.79,60.83 L544.27,65.28 L541.23,68.46 L537.69,68.46 L536.17,66.56" fill="none" stroke="#858585" stroke-width="0.55"/>
<path d="M535.66,59.56 L536.67,62.74 L536.17,66.56" fill="none" stroke="#858585" stroke-width="0.55"/>
<path d="M530.09,69.1 L534.14,69.74 L536.17,66.56" fill="none" stroke="#858585" stroke-width="0.55"/>
<path d="M534.14,69.74 L533.13,74.19 L531.11,76.73 L528.07,76.1" fill="none" stroke="#858585" stroke-width="0.55"/>
<path d="M561.48,60.2 L562.49,64.65 L564.01,68.46 L565.53,69.74" fill="none" stroke="#858585" stroke-width="0.55"/>
<path d="M571.1,60.2 L569.58,64.65 L568.06,68.46 L566.04,69.74" fill="none" stroke="#858585" stroke-width="0.55"/>
<path d="M553.89,61.47 L553.38,65.92 L555.4,69.74 L555.4,72.28" fill="none" stroke="#858585" stroke-width="0.55"/>
<path d="M555.4,72.28 L558.44,71.01 L562.49,69.74 L565.53,69.74" fill="none" stroke="#858585" stroke-width="0.55"/>
<path d="M565.53,69.74 L567.05,72.28 L567.55,74.19" fill="none" stroke="#858585" stroke-width="0.55"/>
<path d="M567.05,72.28 L570.59,73.55 L574.64,72.92 L576.67,74.19" fill="none" stroke="#858585" stroke-width="0.55"/>
<path d="M555.91,73.55 L560.47,74.19 L564.52,74.82 L567.55,74.82" fill="none" stroke="#858585" stroke-width="0.55"/>
<path d="M567.55,74.82 L567.35,76.73" fill="none" stroke="#858585" stroke-width="0.55"/>
<path d="M558.44,76.73 L562.49,77.37 L566.04,78" fill="none" stroke="#858585" stroke-width="0.55"/>
<path d="M550.34,73.55 L555.91,73.55 L559.45,76.73 L558.44,79.28 L555.91,81.18 L553.38,82.46 L551.36,79.28 L550.34,73.55" fill="none" stroke="#858585" stroke-width="0.55"/>
<path d="M558.44,79.28 L558.95,82.46 L559.45,83.73" fill="none" stroke="#858585" stroke-width="0.55"/>
<path d="M551.36,79.28 L548.32,81.82 L545.79,83.09 L544.27,82.46 L542.75,79.91 L541.23,77.37 L543.26,73.55 L544.27,69.74 L544.27,65.28" fill="none" stroke="#858585" stroke-width="0.55"/>
<path d="M545.79,83.09 L544.27,86.27 L543.26,89.45" fill="none" stroke="#858585" stroke-width="0.55"/>
<path d="M544.27,82.46 L541.23,81.18 L538.19,80.55 L535.16,81.82" fill="none" stroke="#858585" stroke-width="0.55"/>
<path d="M535.16,81.82 L533.13,82.46 L532.12,79.91 L531.11,76.73" fill="none" stroke="#858585" stroke-width="0.55"/>
<path d="M532.12,82.46 L529.08,86.27 L528.07,88.82 L527.06,91.36 L528.07,95.18 L526.55,98.99 L526.04,102.81" fill="none" stroke="#858585" stroke-width="0.55"/>
<path d="M531.11,76.73 L528.07,78.64 L526.55,82.46 L527.06,86.27" fill="none" stroke="#858585" stroke-width="0.55"/>
<path d="M522.5,93.9 L526.04,95.18 L528.07,95.18" fill="none" stroke="#858585" stroke-width="0.55"/>
<path d="M522.5,86.27 L525.03,86.91 L527.06,88.18" fill="none" stroke="#858585" stroke-width="0.55"/>
<path d="M550.34,61.47 L548.32,65.92 L545.79,69.74 L544.27,69.74" fill="none" stroke="#858585" stroke-width="0.55"/>
<path d="M558.44,76.73 L559.96,79.28 L559.45,81.82" fill="none" stroke="#858585" stroke-width="0.55"/>
<path d="M556.42,81.18 L557.94,83.73 L558.95,85.64" fill="none" stroke="#858585" stroke-width="0.55"/>
<path d="M542.75,79.91 L545.28,76.73 L548.32,74.82 L550.34,73.55" fill="none" stroke="#858585" stroke-width="0.55"/>
<path d="M541.23,77.37 L539.21,73.55 L537.18,71.01 L537.69,68.46" fill="none" stroke="#858585" stroke-width="0.55"/>
<path d="M534.14,69.74 L537.18,71.01" fill="none" stroke="#858585" stroke-width="0.55"/>
<path d="M553.89,61.47 L557.43,57.02 L561.48,57.02" fill="none" stroke="#858585" stroke-width="0.55"/>
<path d="M563.5,39.84 L567.55,35.39 L568.06,32.85" fill="none" stroke="#858585" stroke-width="0.55"/>
<path d="M571.6,45.57 L574.64,43.02 L577.68,43.66" fill="none" stroke="#858585" stroke-width="0.55"/>
<path d="M569.58,64.65 L572.62,65.92 L574.64,66.56" fill="none" stroke="#858585" stroke-width="0.55"/>
<path d="M562.49,64.65 L558.44,66.56 L555.4,69.74" fill="none" stroke="#858585" stroke-width="0.55"/>
<path d="M527.06,91.36 L524.02,90.09 L522.5,88.82" fill="none" stroke="#858585" stroke-width="0.55"/>
<path d="M528.07,95.18 L531.11,92.63 L534.14,91.36" fill="none" stroke="#858585" stroke-width="0.55"/>
<path d="M522.5,82.46 L525.03,81.18 L526.55,82.46" fill="none" stroke="#858585" stroke-width="0.55"/>
<path d="M564.4,72.9C565.23,72.25 567.15,71.18 569.4,69C571.65,66.82 575.07,62.98 577.9,59.8C580.73,56.62 583.57,52.97 586.4,49.9C589.23,46.83 592.07,44 594.9,41.4C597.73,38.8 600.8,36.32 603.4,34.3C606,32.28 608.37,30.85 610.5,29.3C612.63,27.75 615.25,25.72 616.2,25" fill="none" stroke="#000" stroke-width="1.7"/>
<circle cx="618.2" cy="24.2" r="3.6" fill="#000"/>
<path d="M546.4,181.8C546,180.7 544.88,178.18 544,175.2C543.12,172.22 542.15,167.43 541.1,163.9C540.05,160.37 538.17,158.1 537.7,154C537.23,149.9 537.98,144.43 538.3,139.3C538.62,134.17 539.07,127.27 539.6,123.2C540.13,119.13 540.9,116.95 541.5,114.9C542.1,112.85 542.48,112.92 543.2,110.9C543.92,108.88 544.7,105.27 545.8,102.8C546.9,100.33 548.47,98.2 549.8,96.1C551.13,94 552.47,91.97 553.8,90.2C555.13,88.43 556.88,86.83 557.8,85.5C558.72,84.17 558.6,83.53 559.3,82.2C560,80.87 561.05,78.95 562,77.5C562.95,76.05 563.67,74.82 565,73.5C566.33,72.18 567.75,71.78 570,69.6C572.25,67.42 575.67,63.58 578.5,60.4C581.33,57.22 584.17,53.57 587,50.5C589.83,47.43 592.67,44.6 595.5,42C598.33,39.4 601.4,36.92 604,34.9C606.6,32.88 608.97,31.45 611.1,29.9C613.23,28.35 615.85,26.32 616.8,25.6" fill="none" stroke="#9e0000" stroke-width="1.7"/>
<circle cx="546.4" cy="181.8" r="3.7" fill="#9e0000"/>
<circle cx="537.7" cy="154" r="3.7" fill="#9e0000"/>
<circle cx="539.6" cy="123.2" r="3.7" fill="#9e0000"/>
<circle cx="559.3" cy="82.2" r="3.7" fill="#9e0000"/>
<circle cx="616.8" cy="25.6" r="3.7" fill="#9e0000"/>
<text x="629.2" y="29.1" font-family="Liberation Sans" font-size="8.3" font-weight="bold" fill="#9e0000" textLength="38.8" lengthAdjust="spacingAndGlyphs" stroke="#fff" stroke-width="1.6" paint-order="stroke" stroke-linejoin="round">13Z00OCT</text>
<text x="570.1" y="85.4" font-family="Liberation Sans" font-size="8.3" font-weight="bold" fill="#9e0000" textLength="38.8" lengthAdjust="spacingAndGlyphs" stroke="#fff" stroke-width="1.6" paint-order="stroke" stroke-linejoin="round">12Z12OCT</text>
<text x="549.9" y="125.8" font-family="Liberation Sans" font-size="8.3" font-weight="bold" fill="#9e0000" textLength="38.8" lengthAdjust="spacingAndGlyphs" stroke="#fff" stroke-width="1.6" paint-order="stroke" stroke-linejoin="round">12Z00OCT</text>
<text x="547.5" y="157.4" font-family="Liberation Sans" font-size="8.3" font-weight="bold" fill="#9e0000" textLength="38.8" lengthAdjust="spacingAndGlyphs" stroke="#fff" stroke-width="1.6" paint-order="stroke" stroke-linejoin="round">11Z12OCT</text>
<text x="556.7" y="185.1" font-family="Liberation Sans" font-size="8.3" font-weight="bold" fill="#9e0000" textLength="38.8" lengthAdjust="spacingAndGlyphs" stroke="#fff" stroke-width="1.6" paint-order="stroke" stroke-linejoin="round">11Z00OCT</text>
</g>
<rect x="522.5" y="14.6" width="162.5" height="197.6" fill="none" stroke="#3c3c3c" stroke-width="1.1"/>
<line x1="568.57" y1="212.2" x2="568.57" y2="214.79999999999998" stroke="#333" stroke-width="1"/>
<text x="568.57" y="224.9" font-family="Liberation Sans" font-size="10.5" text-anchor="middle" fill="#111" textLength="21.9" lengthAdjust="spacingAndGlyphs" stroke="#111" stroke-width="0.2">140E</text>
<line x1="619.19" y1="212.2" x2="619.19" y2="214.79999999999998" stroke="#333" stroke-width="1"/>
<text x="619.19" y="224.9" font-family="Liberation Sans" font-size="10.5" text-anchor="middle" fill="#111" textLength="21.9" lengthAdjust="spacingAndGlyphs" stroke="#111" stroke-width="0.2">145E</text>
<line x1="669.81" y1="212.2" x2="669.81" y2="214.79999999999998" stroke="#333" stroke-width="1"/>
<text x="669.81" y="224.9" font-family="Liberation Sans" font-size="10.5" text-anchor="middle" fill="#111" textLength="21.9" lengthAdjust="spacingAndGlyphs" stroke="#111" stroke-width="0.2">150E</text>
<text x="67.3" y="12.1" font-family="Liberation Sans" font-size="13.4" fill="#000" textLength="3.6" lengthAdjust="spacingAndGlyphs" stroke="#000" stroke-width="0.77">(</text>
<text x="81.6" y="12.1" font-family="Liberation Sans" font-size="13.4" fill="#000" textLength="3.6" lengthAdjust="spacingAndGlyphs" stroke="#000" stroke-width="0.77">)</text>
<text x="76.25" y="10.9" font-family="Liberation Sans" font-size="11.6" text-anchor="middle" fill="#000" stroke="#000" stroke-width="0.35">a</text>
<text x="94.7" y="10.9" font-family="Liberation Sans" font-size="10.8" fill="#000" textLength="20.8" lengthAdjust="spacingAndGlyphs" stroke="#000" stroke-width="0.4">CTL</text>
<text x="124.7" y="10.9" font-family="Liberation Sans" font-size="11.6" fill="#000" textLength="20.1" lengthAdjust="spacingAndGlyphs" stroke="#000" stroke-width="0.35">run</text>
<text x="226.1" y="12.1" font-family="Liberation Sans" font-size="13.4" fill="#000" textLength="3.6" lengthAdjust="spacingAndGlyphs" stroke="#000" stroke-width="0.77">(</text>
<text x="241.3" y="12.1" font-family="Liberation Sans" font-size="13.4" fill="#000" textLength="3.6" lengthAdjust="spacingAndGlyphs" stroke="#000" stroke-width="0.77">)</text>
<text x="235.5" y="10.9" font-family="Liberation Sans" font-size="11.6" text-anchor="middle" fill="#000" stroke="#000" stroke-width="0.35">b</text>
<text x="252.9" y="10.9" font-family="Liberation Sans" font-size="10.8" fill="#000" textLength="36.2" lengthAdjust="spacingAndGlyphs" stroke="#000" stroke-width="0.4">PNGW</text>
<text x="297.9" y="10.9" font-family="Liberation Sans" font-size="11.6" fill="#000" textLength="20.1" lengthAdjust="spacingAndGlyphs" stroke="#000" stroke-width="0.35">run</text>
<text x="392.4" y="12.1" font-family="Liberation Sans" font-size="13.4" fill="#000" textLength="3.6" lengthAdjust="spacingAndGlyphs" stroke="#000" stroke-width="0.77">(</text>
<text x="407" y="12.1" font-family="Liberation Sans" font-size="13.4" fill="#000" textLength="3.6" lengthAdjust="spacingAndGlyphs" stroke="#000" stroke-width="0.77">)</text>
<text x="401.5" y="10.9" font-family="Liberation Sans" font-size="11.6" text-anchor="middle" fill="#000" stroke="#000" stroke-width="0.35">c</text>
<text x="418.9" y="10.9" font-family="Liberation Sans" font-size="10.8" fill="#000" textLength="35.3" lengthAdjust="spacingAndGlyphs" stroke="#000" stroke-width="0.4">PGW2</text>
<text x="463.1" y="10.9" font-family="Liberation Sans" font-size="11.6" fill="#000" textLength="20" lengthAdjust="spacingAndGlyphs" stroke="#000" stroke-width="0.35">run</text>
<text x="558" y="12.1" font-family="Liberation Sans" font-size="13.4" fill="#000" textLength="3.6" lengthAdjust="spacingAndGlyphs" stroke="#000" stroke-width="0.77">(</text>
<text x="572.1" y="12.1" font-family="Liberation Sans" font-size="13.4" fill="#000" textLength="3.6" lengthAdjust="spacingAndGlyphs" stroke="#000" stroke-width="0.77">)</text>
<text x="566.85" y="10.9" font-family="Liberation Sans" font-size="11.6" text-anchor="middle" fill="#000" stroke="#000" stroke-width="0.35">d</text>
<text x="585.3" y="10.9" font-family="Liberation Sans" font-size="10.8" fill="#000" textLength="35.4" lengthAdjust="spacingAndGlyphs" stroke="#000" stroke-width="0.4">PGW4</text>
<text x="628.7" y="10.9" font-family="Liberation Sans" font-size="11.6" fill="#000" textLength="20.1" lengthAdjust="spacingAndGlyphs" stroke="#000" stroke-width="0.35">run</text>
<line x1="21.2" y1="21.4" x2="24.5" y2="21.4" stroke="#333" stroke-width="0.9"/>
<text x="1" y="24.8" font-family="Liberation Sans" font-size="10" fill="#111" textLength="17.2" lengthAdjust="spacingAndGlyphs" stroke="#111" stroke-width="0.15">40N</text>
<line x1="21.2" y1="85" x2="24.5" y2="85" stroke="#333" stroke-width="0.9"/>
<text x="1" y="88.4" font-family="Liberation Sans" font-size="10" fill="#111" textLength="17.2" lengthAdjust="spacingAndGlyphs" stroke="#111" stroke-width="0.15">35N</text>
<line x1="21.2" y1="148.6" x2="24.5" y2="148.6" stroke="#333" stroke-width="0.9"/>
<text x="1" y="152" font-family="Liberation Sans" font-size="10" fill="#111" textLength="17.2" lengthAdjust="spacingAndGlyphs" stroke="#111" stroke-width="0.15">30N</text>
<line x1="21.2" y1="212.2" x2="24.5" y2="212.2" stroke="#333" stroke-width="0.9"/>
<text x="1" y="215.6" font-family="Liberation Sans" font-size="10" fill="#111" textLength="17.2" lengthAdjust="spacingAndGlyphs" stroke="#111" stroke-width="0.15">25N</text>
<clipPath id="cbclip"><rect x="233" y="230.8" width="243.2" height="6.1" rx="3" ry="3"/></clipPath>
<g clip-path="url(#cbclip)">
<rect x="233" y="230.8" width="28.6" height="6.1" fill="#ffffff"/>
<rect x="261.4" y="230.8" width="31.3" height="6.1" fill="#00bfff"/>
<rect x="292.5" y="230.8" width="31.3" height="6.1" fill="#45c5ff"/>
<rect x="323.6" y="230.8" width="31.3" height="6.1" fill="#87cefa"/>
<rect x="354.7" y="230.8" width="31.3" height="6.1" fill="#c0e4e4"/>
<rect x="385.8" y="230.8" width="31.5" height="6.1" fill="#fef8cc"/>
<rect x="417.1" y="230.8" width="31.4" height="6.1" fill="#fdc266"/>
<rect x="448.3" y="230.8" width="28.1" height="6.1" fill="#ff8c00"/>
<line x1="261.4" y1="230.8" x2="261.4" y2="236.9" stroke="#333" stroke-width="0.8"/>
<line x1="292.5" y1="230.8" x2="292.5" y2="236.9" stroke="#333" stroke-width="0.8"/>
<line x1="323.6" y1="230.8" x2="323.6" y2="236.9" stroke="#333" stroke-width="0.8"/>
<line x1="354.7" y1="230.8" x2="354.7" y2="236.9" stroke="#333" stroke-width="0.8"/>
<line x1="385.8" y1="230.8" x2="385.8" y2="236.9" stroke="#333" stroke-width="0.8"/>
<line x1="417.1" y1="230.8" x2="417.1" y2="236.9" stroke="#333" stroke-width="0.8"/>
<line x1="448.3" y1="230.8" x2="448.3" y2="236.9" stroke="#333" stroke-width="0.8"/>
</g>
<rect x="233" y="230.8" width="243.2" height="6.1" rx="3" ry="3" fill="none" stroke="#444" stroke-width="0.9"/>
<text x="261.4" y="247.6" font-family="Liberation Sans" font-size="10.4" text-anchor="middle" fill="#111" textLength="12.6" lengthAdjust="spacingAndGlyphs" stroke="#111" stroke-width="0.45">25</text>
<text x="292.5" y="247.6" font-family="Liberation Sans" font-size="10.4" text-anchor="middle" fill="#111" textLength="12.6" lengthAdjust="spacingAndGlyphs" stroke="#111" stroke-width="0.45">26</text>
<text x="323.6" y="247.6" font-family="Liberation Sans" font-size="10.4" text-anchor="middle" fill="#111" textLength="12.6" lengthAdjust="spacingAndGlyphs" stroke="#111" stroke-width="0.45">27</text>
<text x="354.7" y="247.6" font-family="Liberation Sans" font-size="10.4" text-anchor="middle" fill="#111" textLength="12.6" lengthAdjust="spacingAndGlyphs" stroke="#111" stroke-width="0.45">28</text>
<text x="385.8" y="247.6" font-family="Liberation Sans" font-size="10.4" text-anchor="middle" fill="#111" textLength="12.6" lengthAdjust="spacingAndGlyphs" stroke="#111" stroke-width="0.45">29</text>
<text x="417.1" y="247.6" font-family="Liberation Sans" font-size="10.4" text-anchor="middle" fill="#111" textLength="12.6" lengthAdjust="spacingAndGlyphs" stroke="#111" stroke-width="0.45">30</text>
<text x="448.3" y="247.6" font-family="Liberation Sans" font-size="10.4" text-anchor="middle" fill="#111" textLength="12.6" lengthAdjust="spacingAndGlyphs" stroke="#111" stroke-width="0.45">31</text>
<text x="480.1" y="245.3" font-family="Liberation Sans" font-size="11.2" fill="#111" textLength="20.3" lengthAdjust="spacingAndGlyphs" stroke="#111" stroke-width="0.3">(°C)</text>
<path d="M37.4,390.5 L37.4,267.5 L326.4,267.5 L326.4,390.5" fill="none" stroke="#3a3a3a" stroke-width="1.2"/>
<line x1="37" y1="390.8" x2="327" y2="390.8" stroke="#8a8a8a" stroke-width="2"/>
<line x1="36.9" y1="390.5" x2="326.4" y2="390.5" stroke="#8c6e64" stroke-width="1.4" stroke-dasharray="1.4 4.19"/>
<line x1="36.9" y1="375.12" x2="326.4" y2="375.12" stroke="#8c6e64" stroke-width="1.4" stroke-dasharray="1.4 4.19"/>
<line x1="36.9" y1="359.75" x2="326.4" y2="359.75" stroke="#8c6e64" stroke-width="1.4" stroke-dasharray="1.4 4.19"/>
<line x1="36.9" y1="344.38" x2="326.4" y2="344.38" stroke="#8c6e64" stroke-width="1.4" stroke-dasharray="1.4 4.19"/>
<line x1="36.9" y1="329" x2="326.4" y2="329" stroke="#8c6e64" stroke-width="1.4" stroke-dasharray="1.4 4.19"/>
<line x1="36.9" y1="313.62" x2="326.4" y2="313.62" stroke="#8c6e64" stroke-width="1.4" stroke-dasharray="1.4 4.19"/>
<line x1="36.9" y1="298.25" x2="326.4" y2="298.25" stroke="#8c6e64" stroke-width="1.4" stroke-dasharray="1.4 4.19"/>
<line x1="36.9" y1="282.88" x2="326.4" y2="282.88" stroke="#8c6e64" stroke-width="1.4" stroke-dasharray="1.4 4.19"/>
<line x1="36.9" y1="267.5" x2="326.4" y2="267.5" stroke="#8c6e64" stroke-width="1.4" stroke-dasharray="1.4 4.19"/>
<line x1="37.4" y1="391.2" x2="37.4" y2="267.5" stroke="#8c6e64" stroke-width="1.4" stroke-dasharray="1.4 4.15"/>
<line x1="94.88" y1="391.2" x2="94.88" y2="267.5" stroke="#8c6e64" stroke-width="1.4" stroke-dasharray="1.4 4.15"/>
<line x1="152.76" y1="391.2" x2="152.76" y2="267.5" stroke="#8c6e64" stroke-width="1.4" stroke-dasharray="1.4 4.15"/>
<line x1="210.64" y1="391.2" x2="210.64" y2="267.5" stroke="#8c6e64" stroke-width="1.4" stroke-dasharray="1.4 4.15"/>
<line x1="268.52" y1="391.2" x2="268.52" y2="267.5" stroke="#8c6e64" stroke-width="1.4" stroke-dasharray="1.4 4.15"/>
<line x1="326.4" y1="391.2" x2="326.4" y2="267.5" stroke="#8c6e64" stroke-width="1.4" stroke-dasharray="1.4 4.15"/>
<path d="M210.6,352.1 L214,350.96 L218,350.19 L223.6,348.51 L227,348.12 L230.7,346.7 L235,344.27 L240.2,342.06 L244.5,340.19 L249.6,336.12 L254,334.71 L259.1,334.35 L263.5,331.06 L268.6,328.94 L273,325.72 L278,323.62 L281,321.67 L283.9,321.45 L287,319.61 L289.8,316.9 L293.5,314.72 L296.9,311.78 L300.5,305.87 L304,301.79 L307.5,297.57 L311.1,292.98 L314.5,287.73 L318.2,284.36 L322.5,279.66 L326.5,276.27 L326.5,285.27 L322.5,288.66 L318.2,293.36 L314.5,296.73 L311.1,301.98 L307.5,306.57 L304,310.79 L300.5,314.87 L296.9,320.78 L293.5,323.72 L289.8,325.9 L287,328.61 L283.9,330.45 L281,330.67 L278,332.62 L273,334.72 L268.6,337.94 L263.5,340.06 L259.1,343.35 L254,343.71 L249.6,345.12 L244.5,349.19 L240.2,351.06 L235,353.27 L230.7,355.7 L227,357.12 L223.6,357.51 L218,359.19 L214,359.96 L210.6,361.1Z" fill="#f0b0c4" opacity="0.55"/>
<path d="M210.6,358 L214,357.76 L218,356.37 L223.6,353.64 L227,352.89 L230.7,352.54 L235,350.99 L240.2,348.98 L244.5,345.54 L249.6,343.1 L254,342.04 L259.1,340.72 L263.5,337.92 L268.6,335.78 L273,333.18 L278,331.28 L281,330.37 L283.9,329.1 L287,326.01 L289.8,323.33 L293.5,320.11 L296.9,316.51 L300.5,311.1 L304,306.1 L307.5,301.57 L311.1,297.22 L314.5,292.89 L318.2,287.53 L322.5,283.42 L326.5,279.87 L326.5,288.37 L322.5,291.92 L318.2,296.03 L314.5,301.39 L311.1,305.72 L307.5,310.07 L304,314.6 L300.5,319.6 L296.9,325.01 L293.5,328.61 L289.8,331.83 L287,334.51 L283.9,337.6 L281,338.87 L278,339.78 L273,341.68 L268.6,344.28 L263.5,346.42 L259.1,349.22 L254,350.54 L249.6,351.6 L244.5,354.04 L240.2,357.48 L235,359.49 L230.7,361.04 L227,361.39 L223.6,362.14 L218,364.87 L214,366.26 L210.6,366.5Z" fill="#a8a0ec" opacity="0.55"/>
<path d="M210.6,354.3 L214,352.84 L218,352.18 L223.6,350.45 L227,348.92 L230.7,347.69 L235,346.12 L240.2,344.34 L244.5,341.48 L249.6,337.73 L254,336.53 L259.1,336.18 L263.5,333.47 L268.6,331.35 L273,327.91 L278,326.12 L281,325.23 L283.9,323.52 L287,321.96 L289.8,319.49 L293.5,315.62 L296.9,312.5 L300.5,307.89 L304,302.95 L307.5,298.16 L311.1,293.74 L314.5,289.17 L318.2,284.08 L322.5,280.39 L326.5,277.5 L326.5,287.5 L322.5,290.39 L318.2,294.08 L314.5,299.17 L311.1,303.74 L307.5,308.16 L304,312.95 L300.5,317.89 L296.9,322.5 L293.5,325.62 L289.8,329.49 L287,331.96 L283.9,333.52 L281,335.23 L278,336.12 L273,337.91 L268.6,341.35 L263.5,343.47 L259.1,346.18 L254,346.53 L249.6,347.73 L244.5,351.48 L240.2,354.34 L235,356.12 L230.7,357.69 L227,358.92 L223.6,360.45 L218,362.18 L214,362.84 L210.6,364.3Z" fill="#c8a4e8" opacity="0.45"/>
<path d="M37,383.31 L167.23,383.31 L181.7,375.62 L196.17,367.94 L210.64,352.56 L225.11,352.56 L239.58,337.19 L254.05,337.19 L268.52,329.5 L282.99,329.5 L297.46,306.44 L311.93,291.06 L326.4,291.06" fill="none" stroke="#1e961e" stroke-width="1.4" stroke-linejoin="round" opacity="1"/>
<path d="M210.6,361 L214,360.76 L218,359.37 L223.6,356.64 L227,355.89 L230.7,355.54 L235,353.99 L240.2,351.98 L244.5,348.54 L249.6,346.1 L254,345.04 L259.1,343.72 L263.5,340.92 L268.6,338.78 L273,336.18 L278,334.28 L281,333.37 L283.9,332.1 L287,329.01 L289.8,326.33 L293.5,323.11 L296.9,319.51 L300.5,314.1 L304,309.1 L307.5,304.57 L311.1,300.22 L314.5,295.89 L318.2,290.53 L322.5,286.42 L326.5,282.87" fill="none" stroke="#2050f0" stroke-width="1.05" stroke-linejoin="round" opacity="1"/>
<path d="M210.6,359.3 L214,357.84 L218,357.18 L223.6,355.45 L227,353.92 L230.7,352.69 L235,351.12 L240.2,349.34 L244.5,346.48 L249.6,342.73 L254,341.53 L259.1,341.18 L263.5,338.47 L268.6,336.35 L273,332.91 L278,331.12 L281,330.23 L283.9,328.52 L287,326.96 L289.8,324.49 L293.5,320.62 L296.9,317.5 L300.5,312.89 L304,307.95 L307.5,303.16 L311.1,298.74 L314.5,294.17 L318.2,289.08 L322.5,285.39 L326.5,282.5" fill="none" stroke="#a020c8" stroke-width="1.05" stroke-linejoin="round" opacity="1"/>
<path d="M210.6,358.1 L214,356.96 L218,356.19 L223.6,354.51 L227,354.12 L230.7,352.7 L235,350.27 L240.2,348.06 L244.5,346.19 L249.6,342.12 L254,340.71 L259.1,340.35 L263.5,337.06 L268.6,334.94 L273,331.72 L278,329.62 L281,327.67 L283.9,327.45 L287,325.61 L289.8,322.9 L293.5,320.72 L296.9,317.78 L300.5,311.87 L304,307.79 L307.5,303.57 L311.1,298.98 L314.5,293.73 L318.2,290.36 L322.5,285.66 L326.5,282.27" fill="none" stroke="#a81818" stroke-width="1.05" stroke-linejoin="round" opacity="1"/>
<path d="M210.6,357.5 L214,356.5 L218,355 L223.6,353.4 L227,352.5 L230.7,351 L235,349.5 L240.2,347.5 L244.5,344.5 L249.6,341.6 L254,340.5 L259.1,339.2 L263.5,337 L268.6,334.5 L273,332 L278,329.7 L281,328.5 L283.9,327.4 L287,325 L289.8,322.6 L293.5,319.8 L296.9,316.7 L300.5,311.5 L304,306.1 L307.5,302 L311.1,297.8 L314.5,293 L318.2,288.4 L322.5,284.5 L326.5,281.3" fill="none" stroke="#000000" stroke-width="1.05" stroke-linejoin="round" opacity="1"/>
<line x1="295.1" y1="267.5" x2="295.1" y2="390.5" stroke="#606060" stroke-width="0.8"/>
<line x1="33.6" y1="390.5" x2="37.4" y2="390.5" stroke="#444" stroke-width="1.1"/>
<text x="31" y="394.8" font-family="Liberation Sans" font-size="11.2" text-anchor="end" fill="#111" textLength="17.55" lengthAdjust="spacingAndGlyphs" stroke="#111" stroke-width="0.3">910</text>
<line x1="33.6" y1="375.12" x2="37.4" y2="375.12" stroke="#444" stroke-width="1.1"/>
<text x="31" y="379.43" font-family="Liberation Sans" font-size="11.2" text-anchor="end" fill="#111" textLength="17.55" lengthAdjust="spacingAndGlyphs" stroke="#111" stroke-width="0.3">920</text>
<line x1="33.6" y1="359.75" x2="37.4" y2="359.75" stroke="#444" stroke-width="1.1"/>
<text x="31" y="364.05" font-family="Liberation Sans" font-size="11.2" text-anchor="end" fill="#111" textLength="17.55" lengthAdjust="spacingAndGlyphs" stroke="#111" stroke-width="0.3">930</text>
<line x1="33.6" y1="344.38" x2="37.4" y2="344.38" stroke="#444" stroke-width="1.1"/>
<text x="31" y="348.68" font-family="Liberation Sans" font-size="11.2" text-anchor="end" fill="#111" textLength="17.55" lengthAdjust="spacingAndGlyphs" stroke="#111" stroke-width="0.3">940</text>
<line x1="33.6" y1="329" x2="37.4" y2="329" stroke="#444" stroke-width="1.1"/>
<text x="31" y="333.3" font-family="Liberation Sans" font-size="11.2" text-anchor="end" fill="#111" textLength="17.55" lengthAdjust="spacingAndGlyphs" stroke="#111" stroke-width="0.3">950</text>
<line x1="33.6" y1="313.62" x2="37.4" y2="313.62" stroke="#444" stroke-width="1.1"/>
<text x="31" y="317.93" font-family="Liberation Sans" font-size="11.2" text-anchor="end" fill="#111" textLength="17.55" lengthAdjust="spacingAndGlyphs" stroke="#111" stroke-width="0.3">960</text>
<line x1="33.6" y1="298.25" x2="37.4" y2="298.25" stroke="#444" stroke-width="1.1"/>
<text x="31" y="302.55" font-family="Liberation Sans" font-size="11.2" text-anchor="end" fill="#111" textLength="17.55" lengthAdjust="spacingAndGlyphs" stroke="#111" stroke-width="0.3">970</text>
<line x1="33.6" y1="282.88" x2="37.4" y2="282.88" stroke="#444" stroke-width="1.1"/>
<text x="31" y="287.18" font-family="Liberation Sans" font-size="11.2" text-anchor="end" fill="#111" textLength="17.55" lengthAdjust="spacingAndGlyphs" stroke="#111" stroke-width="0.3">980</text>
<line x1="33.6" y1="267.5" x2="37.4" y2="267.5" stroke="#444" stroke-width="1.1"/>
<text x="31" y="271.8" font-family="Liberation Sans" font-size="11.2" text-anchor="end" fill="#111" textLength="17.55" lengthAdjust="spacingAndGlyphs" stroke="#111" stroke-width="0.3">990</text>
<line x1="37.4" y1="389.5" x2="37.4" y2="393.7" stroke="#333" stroke-width="1.1"/>
<text x="37" y="403.7" font-family="Liberation Sans" font-size="10.4" text-anchor="middle" fill="#111" textLength="23.1" lengthAdjust="spacingAndGlyphs" stroke="#111" stroke-width="0.1">8OCT</text>
<line x1="94.88" y1="389.5" x2="94.88" y2="393.7" stroke="#333" stroke-width="1.1"/>
<text x="94.88" y="403.7" font-family="Liberation Sans" font-size="10.4" text-anchor="middle" fill="#111" textLength="23.1" lengthAdjust="spacingAndGlyphs" stroke="#111" stroke-width="0.1">9OCT</text>
<line x1="152.76" y1="389.5" x2="152.76" y2="393.7" stroke="#333" stroke-width="1.1"/>
<text x="152.76" y="403.7" font-family="Liberation Sans" font-size="10.4" text-anchor="middle" fill="#111" textLength="28.5" lengthAdjust="spacingAndGlyphs" stroke="#111" stroke-width="0.1">10OCT</text>
<line x1="210.64" y1="389.5" x2="210.64" y2="393.7" stroke="#333" stroke-width="1.1"/>
<text x="210.64" y="403.7" font-family="Liberation Sans" font-size="10.4" text-anchor="middle" fill="#111" textLength="28.5" lengthAdjust="spacingAndGlyphs" stroke="#111" stroke-width="0.1">11OCT</text>
<line x1="268.52" y1="389.5" x2="268.52" y2="393.7" stroke="#333" stroke-width="1.1"/>
<text x="268.52" y="403.7" font-family="Liberation Sans" font-size="10.4" text-anchor="middle" fill="#111" textLength="28.5" lengthAdjust="spacingAndGlyphs" stroke="#111" stroke-width="0.1">12OCT</text>
<line x1="326.4" y1="389.5" x2="326.4" y2="393.7" stroke="#333" stroke-width="1.1"/>
<text x="326.4" y="403.7" font-family="Liberation Sans" font-size="10.4" text-anchor="middle" fill="#111" textLength="28.5" lengthAdjust="spacingAndGlyphs" stroke="#111" stroke-width="0.1">13OCT</text>
<text x="37.3" y="413.8" font-family="Liberation Sans" font-size="10.4" text-anchor="middle" fill="#111" textLength="22.8" lengthAdjust="spacingAndGlyphs" stroke="#111" stroke-width="0.1">2019</text>
<text x="82.2" y="264.6" font-family="Liberation Sans" font-size="14.6" fill="#000" textLength="3.9" lengthAdjust="spacingAndGlyphs" stroke="#000" stroke-width="0.55">(</text>
<text x="96" y="264.6" font-family="Liberation Sans" font-size="14.6" fill="#000" textLength="3.9" lengthAdjust="spacingAndGlyphs" stroke="#000" stroke-width="0.55">)</text>
<text x="91.05" y="263.4" font-family="Liberation Sans" font-size="12.6" text-anchor="middle" fill="#000" stroke="#000" stroke-width="0.25">e</text>
<text x="108.7" y="263.4" font-family="Liberation Sans" font-size="12.3" fill="#000" textLength="56.2" lengthAdjust="spacingAndGlyphs" stroke="#000" stroke-width="0.2">Minimum</text>
<text x="174.4" y="263.4" font-family="Liberation Sans" font-size="12.3" fill="#000" textLength="43.3" lengthAdjust="spacingAndGlyphs" stroke="#000" stroke-width="0.2">central</text>
<text x="226.9" y="263.4" font-family="Liberation Sans" font-size="12.3" fill="#000" textLength="55.2" lengthAdjust="spacingAndGlyphs" stroke="#000" stroke-width="0.2">pressure</text>
<text x="142.3" y="418.7" font-family="Liberation Serif" font-size="13" fill="#111" textLength="32.4" lengthAdjust="spacingAndGlyphs" stroke="#111" stroke-width="0.15">Time</text>
<text x="183.9" y="418.7" font-family="Liberation Serif" font-size="13" fill="#111" textLength="37.2" lengthAdjust="spacingAndGlyphs" stroke="#111" stroke-width="0.15">(UTC)</text>
<text x="9.7" y="260" font-family="Liberation Serif" font-size="9.8" fill="#111" textLength="27.4" lengthAdjust="spacingAndGlyphs" stroke="#111" stroke-width="0.15">(hPa)</text>
<line x1="43.1" y1="274.4" x2="62.1" y2="274.4" stroke="#000000" stroke-width="1.4"/>
<rect x="66.6" y="272" width="1.3" height="1.4" fill="#000000"/>
<rect x="66.6" y="276.2" width="1.3" height="1.4" fill="#000000"/>
<text x="76.4" y="277.6" font-family="Liberation Sans" font-size="10.3" fill="#000000" textLength="17.7" lengthAdjust="spacingAndGlyphs" stroke="#000000" stroke-width="0.5">CTL</text>
<text x="103.3" y="277.6" font-family="Liberation Sans" font-size="10.3" fill="#000000" textLength="17.7" lengthAdjust="spacingAndGlyphs" stroke="#000000" stroke-width="0.5">run</text>
<line x1="43.1" y1="286.45" x2="62.1" y2="286.45" stroke="#9a10cc" stroke-width="1.4"/>
<rect x="66.6" y="284.05" width="1.3" height="1.4" fill="#9a10cc"/>
<rect x="66.6" y="288.25" width="1.3" height="1.4" fill="#9a10cc"/>
<text x="76.4" y="289.65" font-family="Liberation Sans" font-size="10.3" fill="#9a10cc" textLength="31.9" lengthAdjust="spacingAndGlyphs" stroke="#9a10cc" stroke-width="0.5">PNGW</text>
<text x="115.3" y="289.65" font-family="Liberation Sans" font-size="10.3" fill="#9a10cc" textLength="18.5" lengthAdjust="spacingAndGlyphs" stroke="#9a10cc" stroke-width="0.5">run</text>
<line x1="43.1" y1="298.5" x2="62.1" y2="298.5" stroke="#2050f5" stroke-width="1.4"/>
<rect x="66.6" y="296.1" width="1.3" height="1.4" fill="#2050f5"/>
<rect x="66.6" y="300.3" width="1.3" height="1.4" fill="#2050f5"/>
<text x="76.4" y="301.7" font-family="Liberation Sans" font-size="10.3" fill="#2050f5" textLength="30.7" lengthAdjust="spacingAndGlyphs" stroke="#2050f5" stroke-width="0.5">PGW2</text>
<text x="115.1" y="301.7" font-family="Liberation Sans" font-size="10.3" fill="#2050f5" textLength="18.4" lengthAdjust="spacingAndGlyphs" stroke="#2050f5" stroke-width="0.5">run</text>
<line x1="43.1" y1="310.55" x2="62.1" y2="310.55" stroke="#a01010" stroke-width="1.4"/>
<rect x="66.6" y="308.15" width="1.3" height="1.4" fill="#a01010"/>
<rect x="66.6" y="312.35" width="1.3" height="1.4" fill="#a01010"/>
<text x="76.4" y="313.75" font-family="Liberation Sans" font-size="10.3" fill="#a01010" textLength="31.2" lengthAdjust="spacingAndGlyphs" stroke="#a01010" stroke-width="0.5">PGW4</text>
<text x="115.1" y="313.75" font-family="Liberation Sans" font-size="10.3" fill="#a01010" textLength="18.4" lengthAdjust="spacingAndGlyphs" stroke="#a01010" stroke-width="0.5">run</text>
<line x1="43.1" y1="322.6" x2="62.1" y2="322.6" stroke="#1a961a" stroke-width="1.4"/>
<rect x="66.6" y="320.2" width="1.3" height="1.4" fill="#1a961a"/>
<rect x="66.6" y="324.4" width="1.3" height="1.4" fill="#1a961a"/>
<text x="76.4" y="325.8" font-family="Liberation Sans" font-size="10.3" fill="#1a961a" textLength="30.7" lengthAdjust="spacingAndGlyphs" stroke="#1a961a" stroke-width="0.5">RSMC</text>
<text x="115.3" y="325.8" font-family="Liberation Sans" font-size="10.3" fill="#1a961a" textLength="12.8" lengthAdjust="spacingAndGlyphs" stroke="#1a961a" stroke-width="0.5">BT</text>
<path d="M377.1,390.5 L377.1,267.5 L666.3,267.5 L666.3,390.5" fill="none" stroke="#3a3a3a" stroke-width="1.2"/>
<line x1="376.7" y1="390.8" x2="666.9" y2="390.8" stroke="#8a8a8a" stroke-width="2"/>
<line x1="376.6" y1="390.5" x2="666.3" y2="390.5" stroke="#8c6e64" stroke-width="1.4" stroke-dasharray="1.4 4.19"/>
<line x1="376.6" y1="375.12" x2="666.3" y2="375.12" stroke="#8c6e64" stroke-width="1.4" stroke-dasharray="1.4 4.19"/>
<line x1="376.6" y1="359.75" x2="666.3" y2="359.75" stroke="#8c6e64" stroke-width="1.4" stroke-dasharray="1.4 4.19"/>
<line x1="376.6" y1="344.38" x2="666.3" y2="344.38" stroke="#8c6e64" stroke-width="1.4" stroke-dasharray="1.4 4.19"/>
<line x1="376.6" y1="329" x2="666.3" y2="329" stroke="#8c6e64" stroke-width="1.4" stroke-dasharray="1.4 4.19"/>
<line x1="376.6" y1="313.62" x2="666.3" y2="313.62" stroke="#8c6e64" stroke-width="1.4" stroke-dasharray="1.4 4.19"/>
<line x1="376.6" y1="298.25" x2="666.3" y2="298.25" stroke="#8c6e64" stroke-width="1.4" stroke-dasharray="1.4 4.19"/>
<line x1="376.6" y1="282.88" x2="666.3" y2="282.88" stroke="#8c6e64" stroke-width="1.4" stroke-dasharray="1.4 4.19"/>
<line x1="376.6" y1="267.5" x2="666.3" y2="267.5" stroke="#8c6e64" stroke-width="1.4" stroke-dasharray="1.4 4.19"/>
<line x1="377.1" y1="391.2" x2="377.1" y2="267.5" stroke="#8c6e64" stroke-width="1.4" stroke-dasharray="1.4 4.15"/>
<line x1="434.62" y1="391.2" x2="434.62" y2="267.5" stroke="#8c6e64" stroke-width="1.4" stroke-dasharray="1.4 4.15"/>
<line x1="492.54" y1="391.2" x2="492.54" y2="267.5" stroke="#8c6e64" stroke-width="1.4" stroke-dasharray="1.4 4.15"/>
<line x1="550.46" y1="391.2" x2="550.46" y2="267.5" stroke="#8c6e64" stroke-width="1.4" stroke-dasharray="1.4 4.15"/>
<line x1="608.38" y1="391.2" x2="608.38" y2="267.5" stroke="#8c6e64" stroke-width="1.4" stroke-dasharray="1.4 4.15"/>
<line x1="666.3" y1="391.2" x2="666.3" y2="267.5" stroke="#8c6e64" stroke-width="1.4" stroke-dasharray="1.4 4.15"/>
<path d="M550.47,302.77 L553.21,310.99 L555.95,312.81 L559.6,309.16 L563.25,310.07 L567.81,311.9 L572.37,313.72 L576.02,312.81 L579.67,316.46 L584.23,319.2 L588.8,322.85 L593.36,324.67 L597.92,323.76 L601.57,325.58 L606.13,322.85 L610.69,323.76 L614.34,321.93 L617.99,322.85 L621.64,320.11 L625.29,319.2 L628.03,321.02 L629.85,329.23 L632.59,332.88 L635.33,332.88 L638.07,331.06 L639.89,333.8 L642.63,339.27 L644.45,336.53 L647.19,342.01 L649.93,343.83 L652.66,342.92 L655.4,338.36 L658.14,335.62 L660.88,333.8 L663.61,336.53 L665.44,339.27 L665.44,348.27 L663.61,345.53 L660.88,342.8 L658.14,344.62 L655.4,347.36 L652.66,351.92 L649.93,352.83 L647.19,351.01 L644.45,345.53 L642.63,348.27 L639.89,342.8 L638.07,340.06 L635.33,341.88 L632.59,341.88 L629.85,338.23 L628.03,330.02 L625.29,328.2 L621.64,329.11 L617.99,331.85 L614.34,330.93 L610.69,332.76 L606.13,331.85 L601.57,334.58 L597.92,332.76 L593.36,333.67 L588.8,331.85 L584.23,328.2 L579.67,325.46 L576.02,321.81 L572.37,322.72 L567.81,320.9 L563.25,319.07 L559.6,318.16 L555.95,321.81 L553.21,319.99 L550.47,311.77Z" fill="#f6b4c0" opacity="0.6"/>
<path d="M550.47,305.6 L553.21,314.72 L555.95,318.37 L559.6,319.28 L563.25,316.55 L566.9,313.81 L570.55,318.37 L574.2,322.93 L578.76,323.85 L583.32,324.76 L588.8,326.58 L593.36,327.5 L597.92,328.41 L601.57,326.58 L604.31,330.23 L607.96,328.41 L612.52,327.5 L616.17,326.58 L619.82,325.67 L623.47,324.76 L627.12,326.58 L629.85,334.8 L632.59,339.36 L635.33,338.45 L637.15,333.88 L639.89,334.8 L642.63,340.27 L645.36,337.53 L648.1,342.09 L650.84,344.83 L654.49,340.27 L658.14,336.62 L661.79,334.8 L665.44,340.27 L665.44,350.27 L661.79,344.8 L658.14,346.62 L654.49,350.27 L650.84,354.83 L648.1,352.09 L645.36,347.53 L642.63,350.27 L639.89,344.8 L637.15,343.88 L635.33,348.45 L632.59,349.36 L629.85,344.8 L627.12,336.58 L623.47,334.76 L619.82,335.67 L616.17,336.58 L612.52,337.5 L607.96,338.41 L604.31,340.23 L601.57,336.58 L597.92,338.41 L593.36,337.5 L588.8,336.58 L583.32,334.76 L578.76,333.85 L574.2,332.93 L570.55,328.37 L566.9,323.81 L563.25,326.55 L559.6,329.28 L555.95,328.37 L553.21,324.72 L550.47,315.6Z" fill="#9890e4" opacity="0.55"/>
<path d="M550.47,300.21 L553.21,315.72 L555.95,320.28 L559.6,321.2 L563.25,320.28 L566.9,321.2 L570.55,324.85 L574.2,328.5 L578.76,331.23 L583.32,333.06 L588.8,334.88 L594.27,336.71 L599.74,337.62 L605.22,336.71 L610.69,338.53 L615.26,336.71 L619.82,337.62 L623.47,336.71 L627.12,339.45 L629.85,344.92 L632.59,348.57 L635.33,344.92 L638.07,340.36 L640.8,342.18 L643.54,345.83 L647.19,347.66 L650.84,351.31 L654.49,345.83 L658.14,339.45 L661.79,336.71 L665.44,341.27 L665.44,349.27 L661.79,344.71 L658.14,347.45 L654.49,353.83 L650.84,359.31 L647.19,355.66 L643.54,353.83 L640.8,350.18 L638.07,348.36 L635.33,352.92 L632.59,356.57 L629.85,352.92 L627.12,347.45 L623.47,344.71 L619.82,345.62 L615.26,344.71 L610.69,346.53 L605.22,344.71 L599.74,345.62 L594.27,344.71 L588.8,342.88 L583.32,341.06 L578.76,339.23 L574.2,336.5 L570.55,332.85 L566.9,329.2 L563.25,328.28 L559.6,329.2 L555.95,328.28 L553.21,323.72 L550.47,308.21Z" fill="#c4a0e8" opacity="0.5"/>
<path d="M376.7,286.25 L507.02,286.25 L521.5,294.25 L535.98,301.93 L550.46,309.93 L564.94,309.93 L579.42,317.92 L593.9,317.92 L608.38,325.61 L622.86,325.61 L637.34,341.6 L651.82,357.28 L666.3,357.28" fill="none" stroke="#1e961e" stroke-width="1.4" stroke-linejoin="round" opacity="1"/>
<path d="M550.47,303.21 L553.21,318.72 L555.95,323.28 L559.6,324.2 L563.25,323.28 L566.9,324.2 L570.55,327.85 L574.2,331.5 L578.76,334.23 L583.32,336.06 L588.8,337.88 L594.27,339.71 L599.74,340.62 L605.22,339.71 L610.69,341.53 L615.26,339.71 L619.82,340.62 L623.47,339.71 L627.12,342.45 L629.85,347.92 L632.59,351.57 L635.33,347.92 L638.07,343.36 L640.8,345.18 L643.54,348.83 L647.19,350.66 L650.84,354.31 L654.49,348.83 L658.14,342.45 L661.79,339.71 L665.44,344.27" fill="none" stroke="#a020c8" stroke-width="1.05" stroke-linejoin="round" opacity="1"/>
<path d="M550.47,309.6 L553.21,318.72 L555.95,322.37 L559.6,323.28 L563.25,320.55 L566.9,317.81 L570.55,322.37 L574.2,326.93 L578.76,327.85 L583.32,328.76 L588.8,330.58 L593.36,331.5 L597.92,332.41 L601.57,330.58 L604.31,334.23 L607.96,332.41 L612.52,331.5 L616.17,330.58 L619.82,329.67 L623.47,328.76 L627.12,330.58 L629.85,338.8 L632.59,343.36 L635.33,342.45 L637.15,337.88 L639.89,338.8 L642.63,344.27 L645.36,341.53 L648.1,346.09 L650.84,348.83 L654.49,344.27 L658.14,340.62 L661.79,338.8 L665.44,344.27" fill="none" stroke="#2050f0" stroke-width="1.05" stroke-linejoin="round" opacity="1"/>
<path d="M550.47,307.77 L553.21,315.99 L555.95,317.81 L559.6,314.16 L563.25,315.07 L567.81,316.9 L572.37,318.72 L576.02,317.81 L579.67,321.46 L584.23,324.2 L588.8,327.85 L593.36,329.67 L597.92,328.76 L601.57,330.58 L606.13,327.85 L610.69,328.76 L614.34,326.93 L617.99,327.85 L621.64,325.11 L625.29,324.2 L628.03,326.02 L629.85,334.23 L632.59,337.88 L635.33,337.88 L638.07,336.06 L639.89,338.8 L642.63,344.27 L644.45,341.53 L647.19,347.01 L649.93,348.83 L652.66,347.92 L655.4,343.36 L658.14,340.62 L660.88,338.8 L663.61,341.53 L665.44,344.27" fill="none" stroke="#a81818" stroke-width="1.05" stroke-linejoin="round" opacity="1"/>
<path d="M550.47,312.34 L553.21,319.64 L555.95,323.28 L559.6,323.28 L563.25,322.37 L566.9,322.37 L570.55,326.02 L574.2,330.58 L578.76,332.41 L583.32,334.23 L588.8,336.06 L594.27,336.97 L599.74,337.88 L603.39,339.71 L607.04,337.88 L610.69,336.06 L615.26,336.06 L619.82,337.88 L625.29,338.8 L628.94,343.36 L631.68,349.74 L634.42,347.92 L637.15,341.53 L639.89,342.45 L643.54,347.92 L647.19,349.74 L650.84,353.39 L654.49,347.92 L658.14,342.45 L661.79,338.8 L665.44,343.36" fill="none" stroke="#000000" stroke-width="1.05" stroke-linejoin="round" opacity="1"/>
<line x1="635.0" y1="267.5" x2="635.0" y2="390.5" stroke="#606060" stroke-width="0.8"/>
<line x1="373.3" y1="390.5" x2="377.1" y2="390.5" stroke="#444" stroke-width="1.1"/>
<text x="370.7" y="394.8" font-family="Liberation Sans" font-size="11.2" text-anchor="end" fill="#111" textLength="11.7" lengthAdjust="spacingAndGlyphs" stroke="#111" stroke-width="0.3">20</text>
<line x1="373.3" y1="375.12" x2="377.1" y2="375.12" stroke="#444" stroke-width="1.1"/>
<text x="370.7" y="379.43" font-family="Liberation Sans" font-size="11.2" text-anchor="end" fill="#111" textLength="11.7" lengthAdjust="spacingAndGlyphs" stroke="#111" stroke-width="0.3">25</text>
<line x1="373.3" y1="359.75" x2="377.1" y2="359.75" stroke="#444" stroke-width="1.1"/>
<text x="370.7" y="364.05" font-family="Liberation Sans" font-size="11.2" text-anchor="end" fill="#111" textLength="11.7" lengthAdjust="spacingAndGlyphs" stroke="#111" stroke-width="0.3">30</text>
<line x1="373.3" y1="344.38" x2="377.1" y2="344.38" stroke="#444" stroke-width="1.1"/>
<text x="370.7" y="348.68" font-family="Liberation Sans" font-size="11.2" text-anchor="end" fill="#111" textLength="11.7" lengthAdjust="spacingAndGlyphs" stroke="#111" stroke-width="0.3">35</text>
<line x1="373.3" y1="329" x2="377.1" y2="329" stroke="#444" stroke-width="1.1"/>
<text x="370.7" y="333.3" font-family="Liberation Sans" font-size="11.2" text-anchor="end" fill="#111" textLength="11.7" lengthAdjust="spacingAndGlyphs" stroke="#111" stroke-width="0.3">40</text>
<line x1="373.3" y1="313.62" x2="377.1" y2="313.62" stroke="#444" stroke-width="1.1"/>
<text x="370.7" y="317.93" font-family="Liberation Sans" font-size="11.2" text-anchor="end" fill="#111" textLength="11.7" lengthAdjust="spacingAndGlyphs" stroke="#111" stroke-width="0.3">45</text>
<line x1="373.3" y1="298.25" x2="377.1" y2="298.25" stroke="#444" stroke-width="1.1"/>
<text x="370.7" y="302.55" font-family="Liberation Sans" font-size="11.2" text-anchor="end" fill="#111" textLength="11.7" lengthAdjust="spacingAndGlyphs" stroke="#111" stroke-width="0.3">50</text>
<line x1="373.3" y1="282.88" x2="377.1" y2="282.88" stroke="#444" stroke-width="1.1"/>
<text x="370.7" y="287.18" font-family="Liberation Sans" font-size="11.2" text-anchor="end" fill="#111" textLength="11.7" lengthAdjust="spacingAndGlyphs" stroke="#111" stroke-width="0.3">55</text>
<line x1="373.3" y1="267.5" x2="377.1" y2="267.5" stroke="#444" stroke-width="1.1"/>
<text x="370.7" y="271.8" font-family="Liberation Sans" font-size="11.2" text-anchor="end" fill="#111" textLength="11.7" lengthAdjust="spacingAndGlyphs" stroke="#111" stroke-width="0.3">60</text>
<line x1="377.1" y1="389.5" x2="377.1" y2="393.7" stroke="#333" stroke-width="1.1"/>
<text x="376.7" y="403.7" font-family="Liberation Sans" font-size="10.4" text-anchor="middle" fill="#111" textLength="23.1" lengthAdjust="spacingAndGlyphs" stroke="#111" stroke-width="0.1">8OCT</text>
<line x1="434.62" y1="389.5" x2="434.62" y2="393.7" stroke="#333" stroke-width="1.1"/>
<text x="434.62" y="403.7" font-family="Liberation Sans" font-size="10.4" text-anchor="middle" fill="#111" textLength="23.1" lengthAdjust="spacingAndGlyphs" stroke="#111" stroke-width="0.1">9OCT</text>
<line x1="492.54" y1="389.5" x2="492.54" y2="393.7" stroke="#333" stroke-width="1.1"/>
<text x="492.54" y="403.7" font-family="Liberation Sans" font-size="10.4" text-anchor="middle" fill="#111" textLength="28.5" lengthAdjust="spacingAndGlyphs" stroke="#111" stroke-width="0.1">10OCT</text>
<line x1="550.46" y1="389.5" x2="550.46" y2="393.7" stroke="#333" stroke-width="1.1"/>
<text x="550.46" y="403.7" font-family="Liberation Sans" font-size="10.4" text-anchor="middle" fill="#111" textLength="28.5" lengthAdjust="spacingAndGlyphs" stroke="#111" stroke-width="0.1">11OCT</text>
<line x1="608.38" y1="389.5" x2="608.38" y2="393.7" stroke="#333" stroke-width="1.1"/>
<text x="608.38" y="403.7" font-family="Liberation Sans" font-size="10.4" text-anchor="middle" fill="#111" textLength="28.5" lengthAdjust="spacingAndGlyphs" stroke="#111" stroke-width="0.1">12OCT</text>
<line x1="666.3" y1="389.5" x2="666.3" y2="393.7" stroke="#333" stroke-width="1.1"/>
<text x="666.3" y="403.7" font-family="Liberation Sans" font-size="10.4" text-anchor="middle" fill="#111" textLength="28.5" lengthAdjust="spacingAndGlyphs" stroke="#111" stroke-width="0.1">13OCT</text>
<text x="377" y="413.8" font-family="Liberation Sans" font-size="10.4" text-anchor="middle" fill="#111" textLength="22.8" lengthAdjust="spacingAndGlyphs" stroke="#111" stroke-width="0.1">2019</text>
<text x="438" y="264.6" font-family="Liberation Sans" font-size="14.6" fill="#000" textLength="3.9" lengthAdjust="spacingAndGlyphs" stroke="#000" stroke-width="0.55">(</text>
<text x="449.2" y="264.6" font-family="Liberation Sans" font-size="14.6" fill="#000" textLength="3.9" lengthAdjust="spacingAndGlyphs" stroke="#000" stroke-width="0.55">)</text>
<text x="445.55" y="263.4" font-family="Liberation Sans" font-size="12.6" text-anchor="middle" fill="#000" stroke="#000" stroke-width="0.25">f</text>
<text x="462.1" y="263.4" font-family="Liberation Sans" font-size="12.3" fill="#000" textLength="60.6" lengthAdjust="spacingAndGlyphs" stroke="#000" stroke-width="0.2">Maximum</text>
<text x="531.6" y="263.4" font-family="Liberation Sans" font-size="12.3" fill="#000" textLength="27.7" lengthAdjust="spacingAndGlyphs" stroke="#000" stroke-width="0.2">wind</text>
<text x="567.3" y="263.4" font-family="Liberation Sans" font-size="12.3" fill="#000" textLength="37.7" lengthAdjust="spacingAndGlyphs" stroke="#000" stroke-width="0.2">speed</text>
<text x="482" y="418.7" font-family="Liberation Serif" font-size="13" fill="#111" textLength="32.4" lengthAdjust="spacingAndGlyphs" stroke="#111" stroke-width="0.15">Time</text>
<text x="523.6" y="418.7" font-family="Liberation Serif" font-size="13" fill="#111" textLength="37.2" lengthAdjust="spacingAndGlyphs" stroke="#111" stroke-width="0.15">(UTC)</text>
<text x="347.2" y="260" font-family="Liberation Serif" font-size="9.8" fill="#111" textLength="25.5" lengthAdjust="spacingAndGlyphs" stroke="#111" stroke-width="0.15">(m  s</text>
<text x="373" y="256.6" font-family="Liberation Serif" font-size="6" fill="#111" textLength="4.6" lengthAdjust="spacingAndGlyphs" stroke="#111" stroke-width="0.15">-1</text>
<text x="378.2" y="260" font-family="Liberation Serif" font-size="9.8" fill="#111" textLength="3.6" lengthAdjust="spacingAndGlyphs" stroke="#111" stroke-width="0.15">)</text>
<line x1="382.8" y1="336.4" x2="401.8" y2="336.4" stroke="#000000" stroke-width="1.4"/>
<rect x="406.3" y="334" width="1.3" height="1.4" fill="#000000"/>
<rect x="406.3" y="338.2" width="1.3" height="1.4" fill="#000000"/>
<text x="416.1" y="339.6" font-family="Liberation Sans" font-size="10.3" fill="#000000" textLength="17.7" lengthAdjust="spacingAndGlyphs" stroke="#000000" stroke-width="0.5">CTL</text>
<text x="443" y="339.6" font-family="Liberation Sans" font-size="10.3" fill="#000000" textLength="17.7" lengthAdjust="spacingAndGlyphs" stroke="#000000" stroke-width="0.5">run</text>
<line x1="382.8" y1="348.45" x2="401.8" y2="348.45" stroke="#9a10cc" stroke-width="1.4"/>
<rect x="406.3" y="346.05" width="1.3" height="1.4" fill="#9a10cc"/>
<rect x="406.3" y="350.25" width="1.3" height="1.4" fill="#9a10cc"/>
<text x="416.1" y="351.65" font-family="Liberation Sans" font-size="10.3" fill="#9a10cc" textLength="31.9" lengthAdjust="spacingAndGlyphs" stroke="#9a10cc" stroke-width="0.5">PNGW</text>
<text x="455" y="351.65" font-family="Liberation Sans" font-size="10.3" fill="#9a10cc" textLength="18.5" lengthAdjust="spacingAndGlyphs" stroke="#9a10cc" stroke-width="0.5">run</text>
<line x1="382.8" y1="360.5" x2="401.8" y2="360.5" stroke="#2050f5" stroke-width="1.4"/>
<rect x="406.3" y="358.1" width="1.3" height="1.4" fill="#2050f5"/>
<rect x="406.3" y="362.3" width="1.3" height="1.4" fill="#2050f5"/>
<text x="416.1" y="363.7" font-family="Liberation Sans" font-size="10.3" fill="#2050f5" textLength="30.7" lengthAdjust="spacingAndGlyphs" stroke="#2050f5" stroke-width="0.5">PGW2</text>
<text x="454.8" y="363.7" font-family="Liberation Sans" font-size="10.3" fill="#2050f5" textLength="18.4" lengthAdjust="spacingAndGlyphs" stroke="#2050f5" stroke-width="0.5">run</text>
<line x1="382.8" y1="372.55" x2="401.8" y2="372.55" stroke="#a01010" stroke-width="1.4"/>
<rect x="406.3" y="370.15" width="1.3" height="1.4" fill="#a01010"/>
<rect x="406.3" y="374.35" width="1.3" height="1.4" fill="#a01010"/>
<text x="416.1" y="375.75" font-family="Liberation Sans" font-size="10.3" fill="#a01010" textLength="31.2" lengthAdjust="spacingAndGlyphs" stroke="#a01010" stroke-width="0.5">PGW4</text>
<text x="454.8" y="375.75" font-family="Liberation Sans" font-size="10.3" fill="#a01010" textLength="18.4" lengthAdjust="spacingAndGlyphs" stroke="#a01010" stroke-width="0.5">run</text>
<line x1="382.8" y1="384.6" x2="401.8" y2="384.6" stroke="#1a961a" stroke-width="1.4"/>
<rect x="406.3" y="382.2" width="1.3" height="1.4" fill="#1a961a"/>
<rect x="406.3" y="386.4" width="1.3" height="1.4" fill="#1a961a"/>
<text x="416.1" y="387.8" font-family="Liberation Sans" font-size="10.3" fill="#1a961a" textLength="30.7" lengthAdjust="spacingAndGlyphs" stroke="#1a961a" stroke-width="0.5">RSMC</text>
<text x="455" y="387.8" font-family="Liberation Sans" font-size="10.3" fill="#1a961a" textLength="12.8" lengthAdjust="spacingAndGlyphs" stroke="#1a961a" stroke-width="0.5">BT</text>
</svg>
</body></html>
